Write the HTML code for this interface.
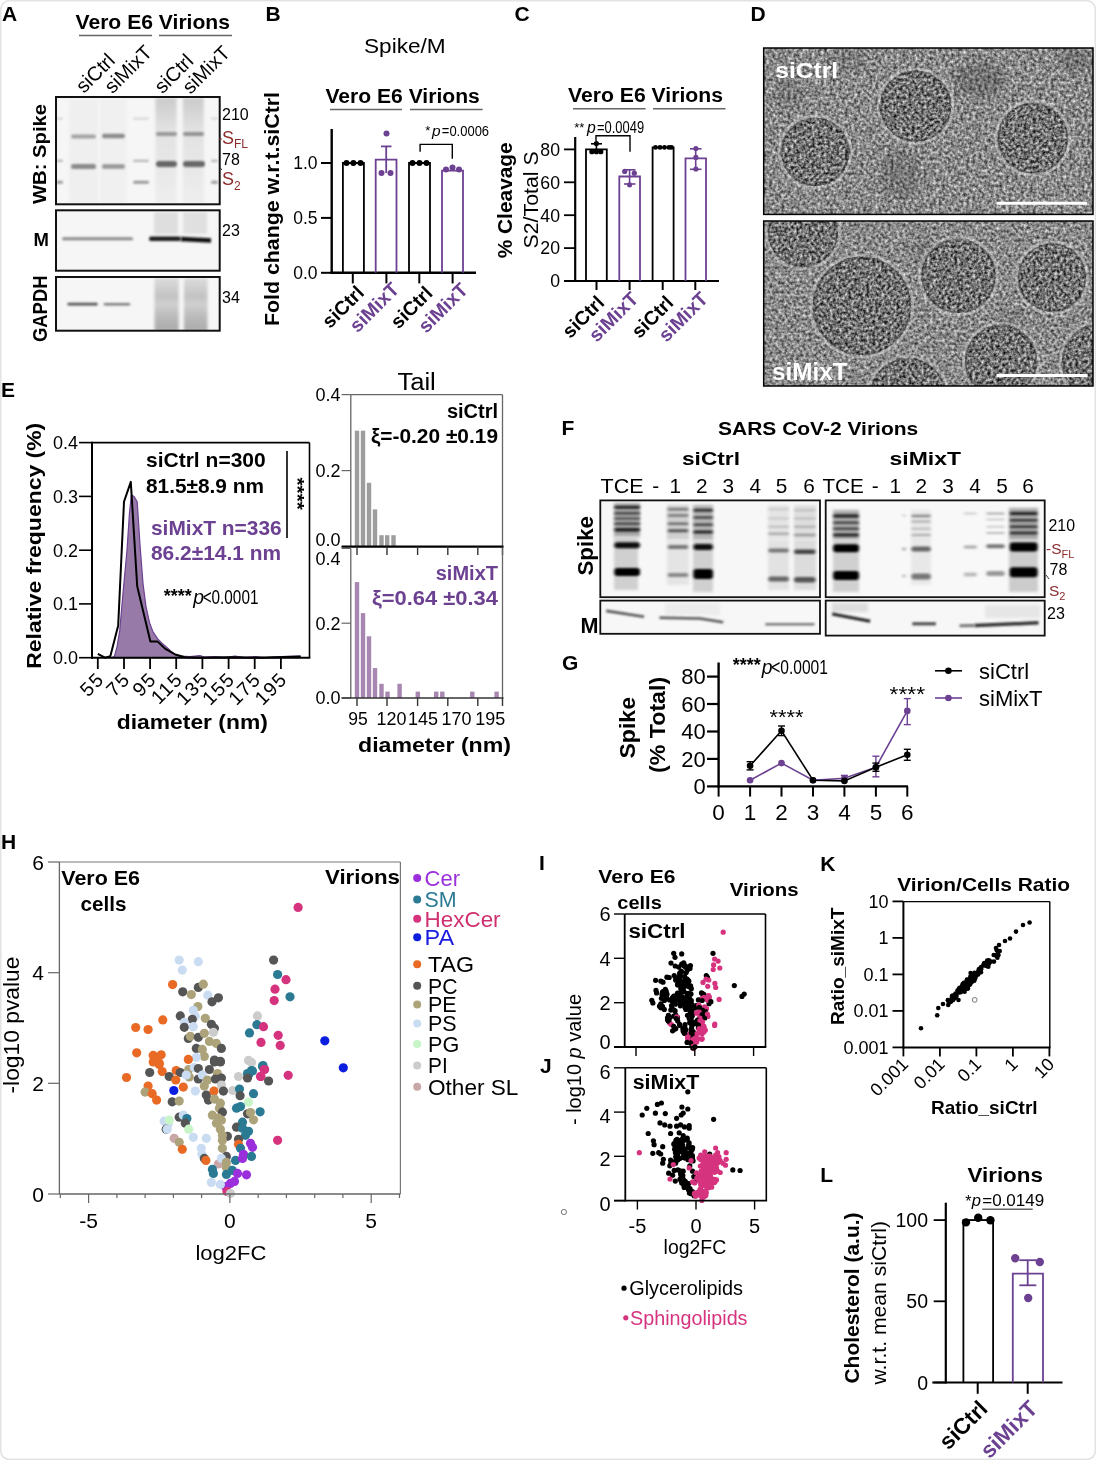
<!DOCTYPE html><html><head><meta charset="utf-8"><style>html,body{margin:0;padding:0;background:#fff;width:1096px;height:1460px;overflow:hidden}</style></head><body><svg width="1096" height="1460" viewBox="0 0 1096 1460" style="display:block" font-family="'Liberation Sans', Arial, sans-serif">
<defs>
<filter id="b1" filterUnits="userSpaceOnUse" x="0" y="0" width="1096" height="1460"><feGaussianBlur stdDeviation="1.0 0.9"/></filter>
<filter id="b2" filterUnits="userSpaceOnUse" x="0" y="0" width="1096" height="1460"><feGaussianBlur stdDeviation="1.5 1.2"/></filter>
<filter id="b3" filterUnits="userSpaceOnUse" x="0" y="0" width="1096" height="1460"><feGaussianBlur stdDeviation="3"/></filter>
<filter id="b4" filterUnits="userSpaceOnUse" x="0" y="0" width="1096" height="1460"><feGaussianBlur stdDeviation="1.6"/></filter>
<filter id="emnoise1" x="0" y="0" width="100%" height="100%" color-interpolation-filters="sRGB"><feTurbulence type="fractalNoise" baseFrequency="0.33" numOctaves="2" seed="3"/><feColorMatrix type="matrix" values="1.0 0 0 0 0.04  1.0 0 0 0 0.04  1.0 0 0 0 0.04  0 0 0 0 1"/></filter>
<filter id="emnoise2" x="0" y="0" width="100%" height="100%" color-interpolation-filters="sRGB"><feTurbulence type="fractalNoise" baseFrequency="0.33" numOctaves="2" seed="7"/><feColorMatrix type="matrix" values="1.0 0 0 0 0.04  1.0 0 0 0 0.04  1.0 0 0 0 0.04  0 0 0 0 1"/></filter>
<filter id="emspeck1" filterUnits="userSpaceOnUse" x="0" y="0" width="1096" height="1460" color-interpolation-filters="sRGB"><feTurbulence type="fractalNoise" baseFrequency="0.33" numOctaves="2" seed="5"/><feColorMatrix type="matrix" values="1.45 0 0 0 -0.29  1.45 0 0 0 -0.29  1.45 0 0 0 -0.29  0 0 0 0 1"/></filter>
<filter id="emspeck2" filterUnits="userSpaceOnUse" x="0" y="0" width="1096" height="1460" color-interpolation-filters="sRGB"><feTurbulence type="fractalNoise" baseFrequency="0.33" numOctaves="2" seed="9"/><feColorMatrix type="matrix" values="1.45 0 0 0 -0.29  1.45 0 0 0 -0.29  1.45 0 0 0 -0.29  0 0 0 0 1"/></filter>
<clipPath id="clipA1"><rect x="56" y="97" width="163.7" height="107.3"/></clipPath>
<clipPath id="clipA2"><rect x="56" y="210.3" width="163.7" height="60.4"/></clipPath>
<clipPath id="clipA3"><rect x="56" y="277" width="163.7" height="53.7"/></clipPath>
<clipPath id="clipF1"><rect x="600.3" y="500.4" width="219.7" height="96.8"/></clipPath>
<clipPath id="clipF2"><rect x="825.7" y="500.4" width="219" height="96.8"/></clipPath>
<clipPath id="clipF3"><rect x="600.3" y="600.6" width="219.7" height="33.2"/></clipPath>
<clipPath id="clipF4"><rect x="825.7" y="600.6" width="219" height="35"/></clipPath>
<linearGradient id="smearA" x1="0" y1="0" x2="0" y2="1"><stop offset="0" stop-color="#cbcbcb"/><stop offset="0.3" stop-color="#e2e2e2"/><stop offset="0.6" stop-color="#e6e6e6"/><stop offset="1" stop-color="#eeeeee"/></linearGradient>
<linearGradient id="smearG" x1="0" y1="0" x2="0" y2="1"><stop offset="0" stop-color="#dcdcdc"/><stop offset="0.35" stop-color="#c2c2c2"/><stop offset="0.5" stop-color="#d0d0d0"/><stop offset="0.7" stop-color="#bcbcbc"/><stop offset="1" stop-color="#aaaaaa"/></linearGradient>
</defs>
<rect x="0" y="0" width="1096" height="1460" fill="#fff"/>
<rect x="0.75" y="0.75" width="1094.6" height="1458.6" rx="8.5" fill="#fff" stroke="#e3e3e3" stroke-width="1.6"/>
<text x="2.0" y="21.0" font-size="21" font-weight="bold">A</text>
<text x="75.5" y="28.8" font-size="21" font-weight="bold" textLength="154.5" lengthAdjust="spacingAndGlyphs">Vero E6 Virions</text>
<line x1="79.0" y1="35.5" x2="152.0" y2="35.5" stroke="#666" stroke-width="1.6" />
<line x1="159.0" y1="35.5" x2="232.0" y2="35.5" stroke="#666" stroke-width="1.6" />
<text x="84.0" y="94.0" font-size="20" transform="rotate(-45 84.0 94.0)">siCtrl</text>
<text x="112.5" y="94.5" font-size="20" transform="rotate(-45 112.5 94.5)">siMixT</text>
<text x="162.5" y="94.5" font-size="20" transform="rotate(-45 162.5 94.5)">siCtrl</text>
<text x="190.5" y="95.0" font-size="20" transform="rotate(-45 190.5 95.0)">siMixT</text>
<g clip-path="url(#clipA1)">
<rect x="56.0" y="97.0" width="163.7" height="107.3" fill="#f6f6f6" />
<rect x="69.0" y="99.0" width="29.0" height="104.0" fill="#efefef" filter="url(#b4)"/>
<rect x="100.0" y="99.0" width="27.0" height="104.0" fill="#f0f0f0" filter="url(#b4)"/>
<rect x="155.4" y="98.0" width="21.2" height="106.0" fill="url(#smearA)" filter="url(#b4)"/>
<rect x="182.9" y="98.0" width="20.9" height="106.0" fill="url(#smearA)" filter="url(#b4)"/>
<rect x="56.0" y="117.8" width="7.0" height="1.6" rx="0.8" fill="#d0d0d0" opacity="1" filter="url(#b1)"/>
<rect x="56.0" y="159.7" width="7.0" height="2.2" rx="1.1" fill="#b5b5b5" opacity="1" filter="url(#b1)"/>
<rect x="56.0" y="180.7" width="7.0" height="3.0" rx="1.5" fill="#999" opacity="1" filter="url(#b1)"/>
<rect x="133.0" y="117.8" width="16.0" height="1.6" rx="0.8" fill="#d0d0d0" opacity="1" filter="url(#b1)"/>
<rect x="133.0" y="159.7" width="16.0" height="2.2" rx="1.1" fill="#b5b5b5" opacity="1" filter="url(#b1)"/>
<rect x="133.0" y="180.7" width="16.0" height="3.0" rx="1.5" fill="#999" opacity="1" filter="url(#b1)"/>
<rect x="211.0" y="117.8" width="7.0" height="1.6" rx="0.8" fill="#d0d0d0" opacity="1" filter="url(#b1)"/>
<rect x="211.0" y="159.7" width="7.0" height="2.2" rx="1.1" fill="#b5b5b5" opacity="1" filter="url(#b1)"/>
<rect x="211.0" y="180.7" width="7.0" height="3.0" rx="1.5" fill="#999" opacity="1" filter="url(#b1)"/>
<rect x="71.0" y="134.5" width="25.0" height="4.0" rx="2.0" fill="#a3a3a3" opacity="1" filter="url(#b1)"/>
<rect x="102.0" y="133.8" width="23.0" height="4.5" rx="2.2" fill="#8a8a8a" opacity="1" filter="url(#b1)"/>
<rect x="156.0" y="132.1" width="21.0" height="3.8" rx="1.9" fill="#999" opacity="1" filter="url(#b1)"/>
<rect x="183.0" y="132.1" width="21.0" height="3.8" rx="1.9" fill="#939393" opacity="1" filter="url(#b1)"/>
<rect x="71.0" y="164.0" width="25.0" height="5.0" rx="2.5" fill="#8a8a8a" opacity="1" filter="url(#b1)"/>
<rect x="102.0" y="164.2" width="23.0" height="4.5" rx="2.2" fill="#959595" opacity="1" filter="url(#b1)"/>
<rect x="156.0" y="161.0" width="21.0" height="6.0" rx="3.0" fill="#666" opacity="1" filter="url(#b1)"/>
<rect x="183.0" y="161.0" width="22.0" height="6.0" rx="3.0" fill="#686868" opacity="1" filter="url(#b1)"/>
</g>
<rect x="56.0" y="97.0" width="163.7" height="107.3" fill="none" stroke="#111" stroke-width="2" />
<g clip-path="url(#clipA2)">
<rect x="56.0" y="210.3" width="163.7" height="60.4" fill="#f6f6f6" />
<rect x="154.0" y="212.0" width="24.0" height="22.0" fill="#dedede" filter="url(#b4)"/>
<rect x="183.0" y="212.0" width="24.0" height="22.0" fill="#e0e0e0" filter="url(#b4)"/>
<rect x="62.0" y="237.3" width="71.0" height="3.0" rx="1.5" fill="#8a8a8a" opacity="1" filter="url(#b1)"/>
<rect x="149.0" y="236.6" width="32.0" height="4.5" rx="2.2" fill="#1e1e1e" opacity="1" filter="url(#b1)"/>
<path d="M181,239 L211,240.5" stroke="#111" stroke-width="4.5" fill="none" filter="url(#b1)"/>
</g>
<rect x="56.0" y="210.3" width="163.7" height="60.4" fill="none" stroke="#111" stroke-width="2" />
<g clip-path="url(#clipA3)">
<rect x="56.0" y="277.0" width="163.7" height="53.7" fill="#f6f6f6" />
<rect x="154.5" y="278.0" width="24.2" height="53.0" fill="url(#smearG)" filter="url(#b4)"/>
<rect x="184.0" y="278.0" width="23.5" height="53.0" fill="url(#smearG)" filter="url(#b4)"/>
<rect x="67.4" y="302.8" width="30.3" height="2.8" rx="1.4" fill="#555" opacity="1" filter="url(#b1)"/>
<rect x="103.7" y="302.9" width="26.5" height="2.6" rx="1.3" fill="#7a7a7a" opacity="1" filter="url(#b1)"/>
</g>
<rect x="56.0" y="277.0" width="163.7" height="53.7" fill="none" stroke="#111" stroke-width="2" />
<text x="45.5" y="204.0" font-size="19" font-weight="bold" transform="rotate(-90 45.5 204.0)" textLength="100" lengthAdjust="spacingAndGlyphs">WB: Spike</text>
<text x="33.5" y="246.0" font-size="18.5" font-weight="bold">M</text>
<text x="47.0" y="342.0" font-size="19.5" font-weight="bold" transform="rotate(-90 47.0 342.0)" textLength="66.5" lengthAdjust="spacingAndGlyphs">GAPDH</text>
<text x="222.0" y="120.0" font-size="16">210</text>
<text x="222.0" y="164.8" font-size="16">78</text>
<text x="222.0" y="236.3" font-size="16">23</text>
<text x="222.0" y="302.8" font-size="16">34</text>
<text x="222" y="144.4" font-size="18" fill="#8b2b2b">S<tspan font-size="12" dy="4">FL</tspan></text>
<text x="222" y="185.2" font-size="18" fill="#8b2b2b">S<tspan font-size="12" dy="5">2</tspan></text>
<line x1="219.0" y1="139.0" x2="222.0" y2="139.0" stroke="#8b2b2b" stroke-width="1" />
<line x1="219.5" y1="167.0" x2="222.0" y2="170.0" stroke="#333" stroke-width="1" />
<text x="265.5" y="20.5" font-size="21" font-weight="bold">B</text>
<text x="364.0" y="53.0" font-size="19.8" textLength="81.7" lengthAdjust="spacingAndGlyphs">Spike/M</text>
<text x="325.4" y="102.5" font-size="19.5" font-weight="bold" textLength="154.4" lengthAdjust="spacingAndGlyphs">Vero E6 Virions</text>
<line x1="330.0" y1="109.5" x2="402.0" y2="109.5" stroke="#666" stroke-width="1.6" />
<line x1="410.0" y1="109.5" x2="482.7" y2="109.5" stroke="#666" stroke-width="1.6" />
<line x1="331.7" y1="129.0" x2="331.7" y2="273.8" stroke="#000" stroke-width="2.4" />
<line x1="330.5" y1="272.8" x2="476.0" y2="272.8" stroke="#000" stroke-width="2.4" />
<line x1="321.0" y1="163.0" x2="331.7" y2="163.0" stroke="#000" stroke-width="2" />
<text x="317.5" y="169.3" font-size="17.5" text-anchor="end">1.0</text>
<line x1="321.0" y1="217.9" x2="331.7" y2="217.9" stroke="#000" stroke-width="2" />
<text x="317.5" y="224.2" font-size="17.5" text-anchor="end">0.5</text>
<line x1="321.0" y1="272.8" x2="331.7" y2="272.8" stroke="#000" stroke-width="2" />
<text x="317.5" y="279.1" font-size="17.5" text-anchor="end">0.0</text>
<path d="M342.9,272.8 L342.9,163.0 L363.9,163.0 L363.9,272.8" stroke="#000" stroke-width="1.8" fill="none" />
<path d="M375.7,272.8 L375.7,159.7 L396.5,159.7 L396.5,272.8" stroke="#6c4192" stroke-width="1.8" fill="none" />
<path d="M409.0,272.8 L409.0,163.0 L430.0,163.0 L430.0,272.8" stroke="#000" stroke-width="1.8" fill="none" />
<path d="M442.0,272.8 L442.0,170.7 L463.0,170.7 L463.0,272.8" stroke="#6c4192" stroke-width="1.8" fill="none" />
<circle cx="346.5" cy="163.0" r="3.0" fill="#000" />
<circle cx="353.4" cy="163.0" r="3.0" fill="#000" />
<circle cx="360.5" cy="163.0" r="3.0" fill="#000" />
<circle cx="412.5" cy="163.0" r="3.0" fill="#000" />
<circle cx="419.5" cy="163.0" r="3.0" fill="#000" />
<circle cx="426.5" cy="163.0" r="3.0" fill="#000" />
<line x1="386.2" y1="146.4" x2="386.2" y2="173.0" stroke="#6c4192" stroke-width="1.8" />
<line x1="381.0" y1="146.4" x2="391.5" y2="146.4" stroke="#6c4192" stroke-width="1.8" />
<circle cx="386.5" cy="133.5" r="3.0" fill="#6c4192" />
<circle cx="381.5" cy="173.0" r="3.0" fill="#6c4192" />
<circle cx="390.5" cy="173.0" r="3.0" fill="#6c4192" />
<circle cx="446.0" cy="169.6" r="3.0" fill="#6c4192" />
<circle cx="452.5" cy="167.6" r="3.0" fill="#6c4192" />
<circle cx="459.0" cy="169.6" r="3.0" fill="#6c4192" />
<path d="M420.1,151.7 L420.1,144.4 L452.3,144.4 L452.3,158.7" stroke="#000" stroke-width="1.4" fill="none" />
<text x="425.2" y="134.5" font-size="13">*</text>
<text x="432.0" y="135.7" font-size="15.5" font-style="italic">p</text>
<text x="441.8" y="135.7" font-size="15.5" textLength="47.3" lengthAdjust="spacingAndGlyphs">=0.0006</text>
<line x1="352.8" y1="272.8" x2="352.8" y2="283.4" stroke="#000" stroke-width="2" />
<text x="365.3" y="294.0" font-size="19.5" font-weight="bold" fill="#000" text-anchor="end" transform="rotate(-45 365.3 294.0)">siCtrl</text>
<line x1="386.4" y1="272.8" x2="386.4" y2="283.4" stroke="#000" stroke-width="2" />
<text x="400.4" y="290.5" font-size="19.5" font-weight="bold" fill="#6c4192" text-anchor="end" transform="rotate(-45 400.4 290.5)">siMixT</text>
<line x1="419.3" y1="272.8" x2="419.3" y2="283.4" stroke="#000" stroke-width="2" />
<text x="433.8" y="294.5" font-size="19.5" font-weight="bold" fill="#000" text-anchor="end" transform="rotate(-45 433.8 294.5)">siCtrl</text>
<line x1="452.6" y1="272.8" x2="452.6" y2="283.4" stroke="#000" stroke-width="2" />
<text x="469.1" y="291.0" font-size="19.5" font-weight="bold" fill="#6c4192" text-anchor="end" transform="rotate(-45 469.1 291.0)">siMixT</text>
<text x="279.0" y="326.0" font-size="20.5" font-weight="bold" transform="rotate(-90 279.0 326.0)" textLength="234" lengthAdjust="spacingAndGlyphs">Fold change w.r.t.siCtrl</text>
<text x="514.4" y="21.0" font-size="21" font-weight="bold">C</text>
<text x="568.0" y="102.0" font-size="19.5" font-weight="bold" textLength="155" lengthAdjust="spacingAndGlyphs">Vero E6 Virions</text>
<line x1="573.0" y1="108.7" x2="645.6" y2="108.7" stroke="#666" stroke-width="1.6" />
<line x1="653.0" y1="108.7" x2="725.5" y2="108.7" stroke="#666" stroke-width="1.6" />
<line x1="575.2" y1="137.0" x2="575.2" y2="282.0" stroke="#000" stroke-width="2.2" />
<line x1="564.0" y1="281.0" x2="719.0" y2="281.0" stroke="#000" stroke-width="2.2" />
<line x1="564.0" y1="149.4" x2="575.2" y2="149.4" stroke="#000" stroke-width="1.8" />
<text x="560.0" y="155.7" font-size="17.7" text-anchor="end">80</text>
<line x1="564.0" y1="182.3" x2="575.2" y2="182.3" stroke="#000" stroke-width="1.8" />
<text x="560.0" y="188.6" font-size="17.7" text-anchor="end">60</text>
<line x1="564.0" y1="215.2" x2="575.2" y2="215.2" stroke="#000" stroke-width="1.8" />
<text x="560.0" y="221.5" font-size="17.7" text-anchor="end">40</text>
<line x1="564.0" y1="248.1" x2="575.2" y2="248.1" stroke="#000" stroke-width="1.8" />
<text x="560.0" y="254.4" font-size="17.7" text-anchor="end">20</text>
<text x="560.0" y="287.3" font-size="17.7" text-anchor="end">0</text>
<path d="M586.0,281.0 L586.0,149.4 L606.8,149.4 L606.8,281.0" stroke="#000" stroke-width="1.8" fill="none" />
<path d="M619.3,281.0 L619.3,176.5 L640.0,176.5 L640.0,281.0" stroke="#6c4192" stroke-width="1.8" fill="none" />
<path d="M652.6,281.0 L652.6,147.4 L673.6,147.4 L673.6,281.0" stroke="#000" stroke-width="1.8" fill="none" />
<path d="M685.5,281.0 L685.5,158.4 L706.0,158.4 L706.0,281.0" stroke="#6c4192" stroke-width="1.8" fill="none" />
<line x1="596.4" y1="143.8" x2="596.4" y2="152.0" stroke="#000" stroke-width="1.6" />
<line x1="591.0" y1="143.8" x2="602.0" y2="143.8" stroke="#000" stroke-width="1.6" />
<circle cx="596.4" cy="143.5" r="2.6" fill="#000" />
<circle cx="591.9" cy="151.7" r="2.6" fill="#000" />
<circle cx="596.4" cy="151.7" r="2.6" fill="#000" />
<circle cx="600.8" cy="151.7" r="2.6" fill="#000" />
<line x1="629.6" y1="169.8" x2="629.6" y2="184.0" stroke="#6c4192" stroke-width="1.6" />
<line x1="624.0" y1="169.8" x2="635.5" y2="169.8" stroke="#6c4192" stroke-width="1.6" />
<line x1="624.0" y1="184.0" x2="635.5" y2="184.0" stroke="#6c4192" stroke-width="1.6" />
<circle cx="624.7" cy="171.4" r="2.6" fill="#6c4192" />
<circle cx="634.3" cy="173.2" r="2.6" fill="#6c4192" />
<circle cx="629.6" cy="184.8" r="2.6" fill="#6c4192" />
<circle cx="655.5" cy="147.4" r="2.4" fill="#000" />
<circle cx="660.0" cy="147.4" r="2.4" fill="#000" />
<circle cx="664.5" cy="147.4" r="2.4" fill="#000" />
<circle cx="669.0" cy="147.4" r="2.4" fill="#000" />
<circle cx="671.5" cy="147.4" r="2.4" fill="#000" />
<line x1="695.7" y1="148.8" x2="695.7" y2="169.3" stroke="#6c4192" stroke-width="1.6" />
<line x1="690.0" y1="148.8" x2="701.5" y2="148.8" stroke="#6c4192" stroke-width="1.6" />
<line x1="690.0" y1="169.3" x2="701.5" y2="169.3" stroke="#6c4192" stroke-width="1.6" />
<circle cx="695.9" cy="148.5" r="2.6" fill="#6c4192" />
<circle cx="695.9" cy="157.4" r="2.6" fill="#6c4192" />
<circle cx="695.9" cy="169.0" r="2.6" fill="#6c4192" />
<path d="M596,141 L596,135.7 L630,135.7 L630,151.8" stroke="#000" stroke-width="1.4" fill="none" />
<text x="574.2" y="131.5" font-size="13">**</text>
<text x="587.0" y="132.5" font-size="15.8" font-style="italic">p</text>
<text x="597.0" y="132.5" font-size="15.8" textLength="47.1" lengthAdjust="spacingAndGlyphs">=0.0049</text>
<line x1="596.5" y1="281.0" x2="596.5" y2="290.0" stroke="#000" stroke-width="2" />
<text x="605.5" y="304.0" font-size="19.5" font-weight="bold" fill="#000" text-anchor="end" transform="rotate(-45 605.5 304.0)">siCtrl</text>
<line x1="629.6" y1="281.0" x2="629.6" y2="290.0" stroke="#000" stroke-width="2" />
<text x="639.6" y="300.0" font-size="19.5" font-weight="bold" fill="#6c4192" text-anchor="end" transform="rotate(-45 639.6 300.0)">siMixT</text>
<line x1="662.7" y1="281.0" x2="662.7" y2="290.0" stroke="#000" stroke-width="2" />
<text x="674.7" y="304.0" font-size="19.5" font-weight="bold" fill="#000" text-anchor="end" transform="rotate(-45 674.7 304.0)">siCtrl</text>
<line x1="695.3" y1="281.0" x2="695.3" y2="290.0" stroke="#000" stroke-width="2" />
<text x="709.3" y="300.0" font-size="19.5" font-weight="bold" fill="#6c4192" text-anchor="end" transform="rotate(-45 709.3 300.0)">siMixT</text>
<text x="512.5" y="258.3" font-size="20.7" font-weight="bold" transform="rotate(-90 512.5 258.3)" textLength="116" lengthAdjust="spacingAndGlyphs">% Cleavage</text>
<text x="537.7" y="248.4" font-size="20.8" transform="rotate(-90 537.7 248.4)" textLength="97" lengthAdjust="spacingAndGlyphs">S2/Total S</text>
<text x="750.4" y="21.0" font-size="21" font-weight="bold">D</text>
<clipPath id="clipD1"><rect x="763.7" y="48" width="329.3" height="166.4"/></clipPath>
<clipPath id="vir1"><circle cx="815.2" cy="151.9" r="34"/><circle cx="915.6" cy="106.2" r="35.5"/><circle cx="1032.8" cy="138.1" r="35"/></clipPath>
<g clip-path="url(#clipD1)">
<rect x="763.7" y="48" width="329.3" height="166.4" fill="#fff" filter="url(#emnoise1)"/>
<ellipse cx="980" cy="80" rx="25" ry="18" fill="#333" opacity="0.25" filter="url(#b3)"/>
<ellipse cx="900" cy="175" rx="20" ry="25" fill="#333" opacity="0.2" filter="url(#b3)"/>
<ellipse cx="790" cy="90" rx="15" ry="20" fill="#333" opacity="0.15" filter="url(#b3)"/>
<ellipse cx="1075" cy="60" rx="15" ry="12" fill="#333" opacity="0.25" filter="url(#b3)"/>
<ellipse cx="850" cy="60" rx="18" ry="10" fill="#333" opacity="0.15" filter="url(#b3)"/>
<circle cx="815.2" cy="151.9" r="36" fill="none" stroke="#e8e8e8" stroke-width="2.5" opacity="0.35"/>
<circle cx="915.6" cy="106.2" r="37.5" fill="none" stroke="#e8e8e8" stroke-width="2.5" opacity="0.35"/>
<circle cx="1032.8" cy="138.1" r="37" fill="none" stroke="#e8e8e8" stroke-width="2.5" opacity="0.35"/>
<rect x="763.7" y="48" width="329.3" height="166.4" fill="#fff" filter="url(#emspeck1)" clip-path="url(#vir1)" opacity="0.85"/>
<circle cx="815.2" cy="151.9" r="33.2" fill="none" stroke="#2a2a2a" stroke-width="1.8" opacity="0.35"/>
<circle cx="915.6" cy="106.2" r="34.7" fill="none" stroke="#2a2a2a" stroke-width="1.8" opacity="0.35"/>
<circle cx="1032.8" cy="138.1" r="34.2" fill="none" stroke="#2a2a2a" stroke-width="1.8" opacity="0.35"/>
</g>
<rect x="763.7" y="48" width="329.3" height="166.4" fill="none" stroke="#000" stroke-width="1.5"/>
<text x="775.2" y="78.0" font-size="22.8" font-weight="bold" fill="#fff" textLength="63" lengthAdjust="spacingAndGlyphs">siCtrl</text>
<line x1="996.6" y1="203.2" x2="1087.0" y2="203.2" stroke="#fff" stroke-width="3" />
<clipPath id="clipD2"><rect x="763.7" y="221" width="329.3" height="165"/></clipPath>
<clipPath id="vir2"><circle cx="803" cy="232" r="35"/><circle cx="861.9" cy="305.9" r="49"/><circle cx="958.5" cy="276" r="37"/><circle cx="1052" cy="277.6" r="34"/><circle cx="1001" cy="361" r="36"/><circle cx="1100" cy="362" r="38"/><circle cx="908" cy="396" r="38"/></clipPath>
<g clip-path="url(#clipD2)">
<rect x="763.7" y="221" width="329.3" height="165" fill="#fff" filter="url(#emnoise2)"/>
<ellipse cx="925" cy="250" rx="15" ry="12" fill="#333" opacity="0.15" filter="url(#b3)"/>
<ellipse cx="1010" cy="320" rx="12" ry="10" fill="#333" opacity="0.15" filter="url(#b3)"/>
<circle cx="803" cy="232" r="37" fill="none" stroke="#e8e8e8" stroke-width="2.5" opacity="0.35"/>
<circle cx="861.9" cy="305.9" r="51" fill="none" stroke="#e8e8e8" stroke-width="2.5" opacity="0.35"/>
<circle cx="958.5" cy="276" r="39" fill="none" stroke="#e8e8e8" stroke-width="2.5" opacity="0.35"/>
<circle cx="1052" cy="277.6" r="36" fill="none" stroke="#e8e8e8" stroke-width="2.5" opacity="0.35"/>
<circle cx="1001" cy="361" r="38" fill="none" stroke="#e8e8e8" stroke-width="2.5" opacity="0.35"/>
<circle cx="1100" cy="362" r="40" fill="none" stroke="#e8e8e8" stroke-width="2.5" opacity="0.35"/>
<circle cx="908" cy="396" r="40" fill="none" stroke="#e8e8e8" stroke-width="2.5" opacity="0.35"/>
<rect x="763.7" y="221" width="329.3" height="165" fill="#fff" filter="url(#emspeck2)" clip-path="url(#vir2)" opacity="0.85"/>
<circle cx="803" cy="232" r="34.2" fill="none" stroke="#2a2a2a" stroke-width="1.8" opacity="0.35"/>
<circle cx="861.9" cy="305.9" r="48.2" fill="none" stroke="#2a2a2a" stroke-width="1.8" opacity="0.35"/>
<circle cx="958.5" cy="276" r="36.2" fill="none" stroke="#2a2a2a" stroke-width="1.8" opacity="0.35"/>
<circle cx="1052" cy="277.6" r="33.2" fill="none" stroke="#2a2a2a" stroke-width="1.8" opacity="0.35"/>
<circle cx="1001" cy="361" r="35.2" fill="none" stroke="#2a2a2a" stroke-width="1.8" opacity="0.35"/>
<circle cx="1100" cy="362" r="37.2" fill="none" stroke="#2a2a2a" stroke-width="1.8" opacity="0.35"/>
<circle cx="908" cy="396" r="37.2" fill="none" stroke="#2a2a2a" stroke-width="1.8" opacity="0.35"/>
</g>
<rect x="763.7" y="221" width="329.3" height="165" fill="none" stroke="#000" stroke-width="1.5"/>
<text x="772.0" y="379.5" font-size="23.5" font-weight="bold" fill="#fff" textLength="75.5" lengthAdjust="spacingAndGlyphs">siMixT</text>
<line x1="996.6" y1="375.4" x2="1087.5" y2="375.4" stroke="#fff" stroke-width="3" />
<text x="1.0" y="397.4" font-size="21" font-weight="bold">E</text>
<path d="M112.0,657.7 L114.5,656.1 L117.0,646.9 L119.7,630.8 L123.0,593.2 L127.0,550.2 L129.5,512.5 L131.4,494.8 L134.0,496.4 L137.2,501.8 L140.0,544.8 L143.0,583.5 L146.0,606.6 L149.5,622.7 L153.0,631.9 L157.7,638.9 L162.0,643.2 L166.4,646.9 L171.0,651.2 L175.2,654.5 L180.0,656.1 L190.0,656.6 L200.0,655.5 L205.0,657.2 L215.0,656.6 L225.0,657.7 L235.0,656.1 L245.0,657.7 L255.0,656.6 L265.0,657.7 L280.0,656.6 L300.0,656.1 L300.0,657.7 Z" fill="#977aa8" stroke="#6c4192" stroke-width="1.2" stroke-linejoin="round"/>
<path d="M97.8,653.9 L105.0,657.7 L110.4,656.1 L118.2,625.4 L124.0,501.8 L130.8,481.9 L137.2,586.2 L150.4,641.6 L157.7,641.6 L165.0,648.6 L175.2,654.5 L185.0,657.2 L200.0,657.7 L230.0,657.2 L260.0,657.7 L300.7,656.6" fill="none" stroke="#000" stroke-width="2" stroke-linejoin="round"/>
<line x1="92.0" y1="442.6" x2="309.5" y2="442.6" stroke="#000" stroke-width="1.6" />
<line x1="309.5" y1="442.6" x2="309.5" y2="657.7" stroke="#000" stroke-width="1.6" />
<line x1="92.0" y1="441.8" x2="92.0" y2="658.7" stroke="#000" stroke-width="2" />
<line x1="91.0" y1="657.7" x2="310.3" y2="657.7" stroke="#000" stroke-width="2" />
<line x1="79.0" y1="442.6" x2="92.0" y2="442.6" stroke="#000" stroke-width="1.6" />
<text x="78.0" y="449.0" font-size="18" text-anchor="end">0.4</text>
<line x1="79.0" y1="496.4" x2="92.0" y2="496.4" stroke="#000" stroke-width="1.6" />
<text x="78.0" y="502.8" font-size="18" text-anchor="end">0.3</text>
<line x1="79.0" y1="550.2" x2="92.0" y2="550.2" stroke="#000" stroke-width="1.6" />
<text x="78.0" y="556.6" font-size="18" text-anchor="end">0.2</text>
<line x1="79.0" y1="603.9" x2="92.0" y2="603.9" stroke="#000" stroke-width="1.6" />
<text x="78.0" y="610.3" font-size="18" text-anchor="end">0.1</text>
<line x1="79.0" y1="657.7" x2="92.0" y2="657.7" stroke="#000" stroke-width="1.6" />
<text x="78.0" y="664.1" font-size="18" text-anchor="end">0.0</text>
<line x1="97.8" y1="657.7" x2="97.8" y2="669.0" stroke="#000" stroke-width="1.8" />
<text x="105.3" y="680.5" font-size="19.5" text-anchor="end" transform="rotate(-45 105.3 680.5)" letter-spacing="1.3">55</text>
<line x1="124.0" y1="657.7" x2="124.0" y2="669.0" stroke="#000" stroke-width="1.8" />
<text x="131.4" y="680.5" font-size="19.5" text-anchor="end" transform="rotate(-45 131.4 680.5)" letter-spacing="1.3">75</text>
<line x1="150.1" y1="657.7" x2="150.1" y2="669.0" stroke="#000" stroke-width="1.8" />
<text x="157.6" y="680.5" font-size="19.5" text-anchor="end" transform="rotate(-45 157.6 680.5)" letter-spacing="1.3">95</text>
<line x1="176.2" y1="657.7" x2="176.2" y2="669.0" stroke="#000" stroke-width="1.8" />
<text x="183.8" y="680.5" font-size="19.5" text-anchor="end" transform="rotate(-45 183.8 680.5)" letter-spacing="1.3">115</text>
<line x1="202.4" y1="657.7" x2="202.4" y2="669.0" stroke="#000" stroke-width="1.8" />
<text x="209.9" y="680.5" font-size="19.5" text-anchor="end" transform="rotate(-45 209.9 680.5)" letter-spacing="1.3">135</text>
<line x1="228.6" y1="657.7" x2="228.6" y2="669.0" stroke="#000" stroke-width="1.8" />
<text x="236.1" y="680.5" font-size="19.5" text-anchor="end" transform="rotate(-45 236.1 680.5)" letter-spacing="1.3">155</text>
<line x1="254.7" y1="657.7" x2="254.7" y2="669.0" stroke="#000" stroke-width="1.8" />
<text x="262.2" y="680.5" font-size="19.5" text-anchor="end" transform="rotate(-45 262.2 680.5)" letter-spacing="1.3">175</text>
<line x1="280.9" y1="657.7" x2="280.9" y2="669.0" stroke="#000" stroke-width="1.8" />
<text x="288.4" y="680.5" font-size="19.5" text-anchor="end" transform="rotate(-45 288.4 680.5)" letter-spacing="1.3">195</text>
<text x="116.8" y="729.2" font-size="20" font-weight="bold" textLength="151" lengthAdjust="spacingAndGlyphs">diameter (nm)</text>
<text x="41.0" y="668.8" font-size="20" font-weight="bold" transform="rotate(-90 41.0 668.8)" textLength="246" lengthAdjust="spacingAndGlyphs">Relative frequency (%)</text>
<text x="146.0" y="467.4" font-size="20.4" font-weight="bold" textLength="119.7" lengthAdjust="spacingAndGlyphs">siCtrl n=300</text>
<text x="146.0" y="492.8" font-size="20.4" font-weight="bold" textLength="118" lengthAdjust="spacingAndGlyphs">81.5±8.9 nm</text>
<text x="151.0" y="535.2" font-size="20.4" font-weight="bold" fill="#6c4192" textLength="130.7" lengthAdjust="spacingAndGlyphs">siMixT n=336</text>
<text x="151.0" y="559.9" font-size="20.4" font-weight="bold" fill="#6c4192" textLength="130" lengthAdjust="spacingAndGlyphs">86.2±14.1 nm</text>
<line x1="287.0" y1="451.0" x2="287.0" y2="538.0" stroke="#000" stroke-width="1.6" />
<text x="291.0" y="477.5" font-size="18" font-weight="bold" transform="rotate(90 291.0 477.5)" textLength="32.5" lengthAdjust="spacingAndGlyphs">****</text>
<text x="163.8" y="601.5" font-size="18" font-weight="bold">****</text>
<text x="193.3" y="603.9" font-size="19.4" font-style="italic">p</text>
<text x="202.7" y="603.9" font-size="19.4" textLength="55.7" lengthAdjust="spacingAndGlyphs">&lt;0.0001</text>
<text x="397.4" y="389.6" font-size="23" textLength="38.4" lengthAdjust="spacingAndGlyphs">Tail</text>
<line x1="350.8" y1="394.6" x2="502.5" y2="394.6" stroke="#666" stroke-width="1.3" />
<line x1="502.5" y1="394.6" x2="502.5" y2="546.6" stroke="#666" stroke-width="1.3" />
<line x1="350.8" y1="394.6" x2="350.8" y2="546.6" stroke="#666" stroke-width="1.3" />
<rect x="354.8" y="430.7" width="4.4" height="115.9" fill="#9d9d9d" />
<rect x="360.8" y="430.7" width="4.4" height="115.9" fill="#9d9d9d" />
<rect x="366.8" y="482.8" width="4.4" height="63.8" fill="#9d9d9d" />
<rect x="372.8" y="509.4" width="4.4" height="37.2" fill="#9d9d9d" />
<rect x="379.3" y="535.2" width="4.4" height="11.4" fill="#9d9d9d" />
<rect x="385.0" y="535.2" width="4.4" height="11.4" fill="#9d9d9d" />
<rect x="391.3" y="535.2" width="4.4" height="11.4" fill="#9d9d9d" />
<line x1="341.6" y1="394.6" x2="350.8" y2="394.6" stroke="#666" stroke-width="1.2" />
<text x="340.5" y="401.4" font-size="18" text-anchor="end">0.4</text>
<line x1="341.6" y1="470.6" x2="350.8" y2="470.6" stroke="#666" stroke-width="1.2" />
<text x="340.5" y="477.0" font-size="18" text-anchor="end">0.2</text>
<line x1="341.6" y1="546.6" x2="350.8" y2="546.6" stroke="#666" stroke-width="1.2" />
<text x="340.5" y="545.9" font-size="18" text-anchor="end">0.0</text>
<line x1="341.6" y1="546.6" x2="503.5" y2="546.6" stroke="#000" stroke-width="2.2" />
<line x1="357.0" y1="546.6" x2="357.0" y2="555.0" stroke="#333" stroke-width="1.4" />
<line x1="387.0" y1="546.6" x2="387.0" y2="555.0" stroke="#333" stroke-width="1.4" />
<line x1="417.6" y1="546.6" x2="417.6" y2="555.0" stroke="#333" stroke-width="1.4" />
<line x1="447.8" y1="546.6" x2="447.8" y2="555.0" stroke="#333" stroke-width="1.4" />
<line x1="477.8" y1="546.6" x2="477.8" y2="555.0" stroke="#333" stroke-width="1.4" />
<line x1="502.5" y1="546.6" x2="502.5" y2="555.0" stroke="#333" stroke-width="1.4" />
<text x="498.0" y="418.2" font-size="20" font-weight="bold" text-anchor="end">siCtrl</text>
<text x="498.0" y="442.8" font-size="20" font-weight="bold" text-anchor="end" textLength="127" lengthAdjust="spacingAndGlyphs">ξ=-0.20 ±0.19</text>
<line x1="350.8" y1="548.4" x2="350.8" y2="698.0" stroke="#666" stroke-width="1.3" />
<line x1="502.5" y1="548.4" x2="502.5" y2="698.0" stroke="#666" stroke-width="1.3" />
<rect x="354.8" y="582.1" width="4.4" height="115.9" fill="#a886b2" />
<rect x="360.8" y="613.1" width="4.4" height="84.9" fill="#a886b2" />
<rect x="366.8" y="636.3" width="4.4" height="61.7" fill="#a886b2" />
<rect x="372.8" y="668.1" width="4.4" height="29.9" fill="#a886b2" />
<rect x="379.3" y="683.8" width="4.4" height="14.2" fill="#a886b2" />
<rect x="385.3" y="691.6" width="4.4" height="6.4" fill="#a886b2" />
<rect x="397.4" y="683.8" width="4.4" height="14.2" fill="#a886b2" />
<rect x="415.6" y="691.6" width="4.4" height="6.4" fill="#a886b2" />
<rect x="434.0" y="691.6" width="4.4" height="6.4" fill="#a886b2" />
<rect x="440.1" y="691.6" width="4.4" height="6.4" fill="#a886b2" />
<rect x="470.1" y="691.6" width="4.4" height="6.4" fill="#a886b2" />
<rect x="494.4" y="691.6" width="4.4" height="6.4" fill="#a886b2" />
<line x1="341.6" y1="548.4" x2="350.8" y2="548.4" stroke="#666" stroke-width="1.2" />
<text x="340.5" y="565.0" font-size="18" text-anchor="end">0.4</text>
<line x1="341.6" y1="623.2" x2="350.8" y2="623.2" stroke="#666" stroke-width="1.2" />
<text x="340.5" y="629.6" font-size="18" text-anchor="end">0.2</text>
<line x1="341.6" y1="698.0" x2="350.8" y2="698.0" stroke="#666" stroke-width="1.2" />
<text x="340.5" y="704.4" font-size="18" text-anchor="end">0.0</text>
<line x1="341.6" y1="698.0" x2="503.5" y2="698.0" stroke="#333" stroke-width="1.6" />
<line x1="357.0" y1="698.0" x2="357.0" y2="706.0" stroke="#333" stroke-width="1.4" />
<text x="358.0" y="724.8" font-size="18.5" text-anchor="middle" textLength="19.5" lengthAdjust="spacingAndGlyphs">95</text>
<line x1="387.0" y1="698.0" x2="387.0" y2="706.0" stroke="#333" stroke-width="1.4" />
<text x="391.4" y="724.8" font-size="18.5" text-anchor="middle" textLength="30" lengthAdjust="spacingAndGlyphs">120</text>
<line x1="417.6" y1="698.0" x2="417.6" y2="706.0" stroke="#333" stroke-width="1.4" />
<text x="423.0" y="724.8" font-size="18.5" text-anchor="middle" textLength="30" lengthAdjust="spacingAndGlyphs">145</text>
<line x1="447.8" y1="698.0" x2="447.8" y2="706.0" stroke="#333" stroke-width="1.4" />
<text x="456.6" y="724.8" font-size="18.5" text-anchor="middle" textLength="30" lengthAdjust="spacingAndGlyphs">170</text>
<line x1="477.8" y1="698.0" x2="477.8" y2="706.0" stroke="#333" stroke-width="1.4" />
<text x="490.2" y="724.8" font-size="18.5" text-anchor="middle" textLength="30" lengthAdjust="spacingAndGlyphs">195</text>
<line x1="502.5" y1="698.0" x2="502.5" y2="706.0" stroke="#333" stroke-width="1.4" />
<text x="358.0" y="751.5" font-size="20" font-weight="bold" textLength="153" lengthAdjust="spacingAndGlyphs">diameter (nm)</text>
<text x="498.0" y="579.7" font-size="20" font-weight="bold" fill="#6c4192" text-anchor="end">siMixT</text>
<text x="498.0" y="604.7" font-size="20" font-weight="bold" fill="#6c4192" text-anchor="end" textLength="126" lengthAdjust="spacingAndGlyphs">ξ=0.64 ±0.34</text>
<text x="561.5" y="434.5" font-size="21" font-weight="bold">F</text>
<text x="718.0" y="434.8" font-size="18.5" font-weight="bold" textLength="200.2" lengthAdjust="spacingAndGlyphs">SARS CoV-2 Virions</text>
<text x="682.0" y="465.2" font-size="19" font-weight="bold" textLength="58" lengthAdjust="spacingAndGlyphs">siCtrl</text>
<text x="889.6" y="465.2" font-size="19" font-weight="bold" textLength="71.4" lengthAdjust="spacingAndGlyphs">siMixT</text>
<text x="600.5" y="492.8" font-size="20.8" textLength="43" lengthAdjust="spacingAndGlyphs">TCE</text>
<text x="822.4" y="492.8" font-size="20.8" textLength="41.4" lengthAdjust="spacingAndGlyphs">TCE</text>
<text x="655.7" y="492.8" font-size="20.8" text-anchor="middle">-</text>
<text x="675.4" y="492.8" font-size="20.8" text-anchor="middle">1</text>
<text x="701.7" y="492.8" font-size="20.8" text-anchor="middle">2</text>
<text x="728.4" y="492.8" font-size="20.8" text-anchor="middle">3</text>
<text x="755.3" y="492.8" font-size="20.8" text-anchor="middle">4</text>
<text x="781.6" y="492.8" font-size="20.8" text-anchor="middle">5</text>
<text x="809.0" y="492.8" font-size="20.8" text-anchor="middle">6</text>
<text x="875.3" y="492.8" font-size="20.8" text-anchor="middle">-</text>
<text x="895.2" y="492.8" font-size="20.8" text-anchor="middle">1</text>
<text x="921.3" y="492.8" font-size="20.8" text-anchor="middle">2</text>
<text x="948.0" y="492.8" font-size="20.8" text-anchor="middle">3</text>
<text x="975.0" y="492.8" font-size="20.8" text-anchor="middle">4</text>
<text x="1002.0" y="492.8" font-size="20.8" text-anchor="middle">5</text>
<text x="1028.0" y="492.8" font-size="20.8" text-anchor="middle">6</text>
<g clip-path="url(#clipF1)">
<rect x="600.3" y="500.4" width="219.7" height="96.8" fill="#f7f7f7" />
<rect x="614.0" y="503.0" width="26.0" height="34.0" fill="#a8a8a8" filter="url(#b4)"/>
<rect x="614.0" y="537.0" width="24.0" height="53.0" fill="#d0d0d0" filter="url(#b4)"/>
<rect x="667.0" y="505.0" width="22.0" height="35.0" fill="#d0d0d0" filter="url(#b4)"/>
<rect x="667.0" y="540.0" width="22.0" height="45.0" fill="#e4e4e4" filter="url(#b4)"/>
<rect x="693.0" y="505.0" width="20.0" height="35.0" fill="#b4b4b4" filter="url(#b4)"/>
<rect x="693.0" y="540.0" width="20.0" height="52.0" fill="#d0d0d0" filter="url(#b4)"/>
<rect x="768.0" y="505.0" width="21.0" height="35.0" fill="#e4e4e4" filter="url(#b4)"/>
<rect x="768.0" y="540.0" width="21.0" height="50.0" fill="#e2e2e2" filter="url(#b4)"/>
<rect x="794.0" y="505.0" width="22.0" height="35.0" fill="#dedede" filter="url(#b4)"/>
<rect x="794.0" y="540.0" width="22.0" height="50.0" fill="#dcdcdc" filter="url(#b4)"/>
<rect x="614.4" y="505.7" width="25.6" height="3.0" rx="1.5" fill="#222" opacity="1" filter="url(#b2)"/>
<rect x="614.4" y="512.1" width="25.6" height="2.5" rx="1.2" fill="#444" opacity="1" filter="url(#b2)"/>
<rect x="614.4" y="517.2" width="25.6" height="2.5" rx="1.2" fill="#555" opacity="1" filter="url(#b2)"/>
<rect x="614.4" y="522.5" width="25.6" height="2.5" rx="1.2" fill="#444" opacity="1" filter="url(#b2)"/>
<rect x="614.4" y="528.0" width="25.6" height="3.5" rx="1.8" fill="#1a1a1a" opacity="1" filter="url(#b2)"/>
<rect x="614.4" y="542.2" width="25.6" height="6.0" rx="3.0" fill="#0a0a0a" opacity="1" filter="url(#b2)"/>
<rect x="614.4" y="567.9" width="25.6" height="8.0" rx="3.0" fill="#050505" opacity="1" filter="url(#b2)"/>
<rect x="667.7" y="508.1" width="20.6" height="2.5" rx="1.2" fill="#777" opacity="1" filter="url(#b2)"/>
<rect x="667.7" y="514.2" width="20.6" height="2.5" rx="1.2" fill="#777" opacity="1" filter="url(#b2)"/>
<rect x="667.7" y="522.5" width="20.6" height="2.5" rx="1.2" fill="#6a6a6a" opacity="1" filter="url(#b2)"/>
<rect x="667.7" y="529.3" width="20.6" height="3.0" rx="1.5" fill="#555" opacity="1" filter="url(#b2)"/>
<rect x="667.7" y="544.9" width="20.6" height="4.0" rx="2.0" fill="#777" opacity="1" filter="url(#b2)"/>
<rect x="667.7" y="573.0" width="20.6" height="4.0" rx="2.0" fill="#888" opacity="1" filter="url(#b2)"/>
<rect x="693.4" y="508.8" width="19.5" height="3.0" rx="1.5" fill="#333" opacity="1" filter="url(#b2)"/>
<rect x="693.4" y="516.2" width="19.5" height="2.5" rx="1.2" fill="#444" opacity="1" filter="url(#b2)"/>
<rect x="693.4" y="523.5" width="19.5" height="2.5" rx="1.2" fill="#444" opacity="1" filter="url(#b2)"/>
<rect x="693.4" y="530.4" width="19.5" height="3.0" rx="1.5" fill="#222" opacity="1" filter="url(#b2)"/>
<rect x="693.4" y="543.9" width="19.5" height="6.0" rx="3.0" fill="#111" opacity="1" filter="url(#b2)"/>
<rect x="693.4" y="569.0" width="19.5" height="10.0" rx="3.0" fill="#000" opacity="1" filter="url(#b2)"/>
<rect x="768.3" y="508.3" width="20.6" height="2.0" rx="1.0" fill="#c8c8c8" opacity="1" filter="url(#b2)"/>
<rect x="768.3" y="517.5" width="20.6" height="2.0" rx="1.0" fill="#c8c8c8" opacity="1" filter="url(#b2)"/>
<rect x="768.3" y="525.7" width="20.6" height="2.0" rx="1.0" fill="#bbb" opacity="1" filter="url(#b2)"/>
<rect x="768.3" y="532.6" width="20.6" height="2.5" rx="1.2" fill="#aaa" opacity="1" filter="url(#b2)"/>
<rect x="768.3" y="548.4" width="20.6" height="4.0" rx="2.0" fill="#777" opacity="1" filter="url(#b2)"/>
<rect x="768.3" y="576.5" width="20.6" height="5.0" rx="2.5" fill="#666" opacity="1" filter="url(#b2)"/>
<rect x="794.0" y="509.3" width="21.6" height="2.0" rx="1.0" fill="#bbb" opacity="1" filter="url(#b2)"/>
<rect x="794.0" y="517.5" width="21.6" height="2.0" rx="1.0" fill="#bbb" opacity="1" filter="url(#b2)"/>
<rect x="794.0" y="525.7" width="21.6" height="2.0" rx="1.0" fill="#aaa" opacity="1" filter="url(#b2)"/>
<rect x="794.0" y="533.8" width="21.6" height="2.5" rx="1.2" fill="#999" opacity="1" filter="url(#b2)"/>
<rect x="794.0" y="549.5" width="21.6" height="4.5" rx="2.2" fill="#444" opacity="1" filter="url(#b2)"/>
<rect x="794.0" y="577.0" width="21.6" height="5.5" rx="2.8" fill="#555" opacity="1" filter="url(#b2)"/>
</g>
<rect x="600.3" y="500.4" width="219.7" height="96.8" fill="none" stroke="#111" stroke-width="1.8" />
<g clip-path="url(#clipF2)">
<rect x="825.7" y="500.4" width="219.0" height="96.8" fill="#f8f8f8" />
<rect x="833.0" y="510.0" width="26.0" height="30.0" fill="#acacac" filter="url(#b4)"/>
<rect x="833.0" y="540.0" width="26.0" height="52.0" fill="#d0d0d0" filter="url(#b4)"/>
<rect x="911.0" y="510.0" width="20.0" height="75.0" fill="#e8e8e8" filter="url(#b4)"/>
<rect x="1009.0" y="508.0" width="29.0" height="32.0" fill="#a8a8a8" filter="url(#b4)"/>
<rect x="1009.0" y="540.0" width="29.0" height="52.0" fill="#cccccc" filter="url(#b4)"/>
<rect x="833.2" y="514.6" width="25.7" height="3.0" rx="1.5" fill="#1a1a1a" opacity="1" filter="url(#b2)"/>
<rect x="833.2" y="521.4" width="25.7" height="2.5" rx="1.2" fill="#444" opacity="1" filter="url(#b2)"/>
<rect x="833.2" y="527.5" width="25.7" height="2.5" rx="1.2" fill="#444" opacity="1" filter="url(#b2)"/>
<rect x="833.2" y="533.5" width="25.7" height="3.0" rx="1.5" fill="#222" opacity="1" filter="url(#b2)"/>
<rect x="833.2" y="544.3" width="25.7" height="8.0" rx="3.0" fill="#000" opacity="1" filter="url(#b2)"/>
<rect x="833.2" y="571.1" width="25.7" height="9.0" rx="3.0" fill="#000" opacity="1" filter="url(#b2)"/>
<rect x="902.0" y="514.5" width="4.0" height="2.0" rx="1.0" fill="#ccc" opacity="1" filter="url(#b2)"/>
<rect x="902.0" y="547.5" width="4.0" height="3.0" rx="1.5" fill="#aaa" opacity="1" filter="url(#b2)"/>
<rect x="902.0" y="574.5" width="4.0" height="3.0" rx="1.5" fill="#bbb" opacity="1" filter="url(#b2)"/>
<rect x="911.3" y="514.8" width="19.5" height="2.5" rx="1.2" fill="#888" opacity="1" filter="url(#b2)"/>
<rect x="911.3" y="520.6" width="19.5" height="2.0" rx="1.0" fill="#aaa" opacity="1" filter="url(#b2)"/>
<rect x="911.3" y="527.8" width="19.5" height="2.0" rx="1.0" fill="#bbb" opacity="1" filter="url(#b2)"/>
<rect x="911.3" y="534.0" width="19.5" height="2.0" rx="1.0" fill="#aaa" opacity="1" filter="url(#b2)"/>
<rect x="911.3" y="546.5" width="19.5" height="5.0" rx="2.5" fill="#666" opacity="1" filter="url(#b2)"/>
<rect x="911.3" y="573.4" width="19.5" height="6.0" rx="3.0" fill="#777" opacity="1" filter="url(#b2)"/>
<rect x="963.6" y="512.4" width="13.4" height="2.0" rx="1.0" fill="#ccc" opacity="1" filter="url(#b2)"/>
<rect x="963.6" y="545.4" width="13.4" height="3.0" rx="1.5" fill="#aaa" opacity="1" filter="url(#b2)"/>
<rect x="963.6" y="572.4" width="13.4" height="4.0" rx="2.0" fill="#bbb" opacity="1" filter="url(#b2)"/>
<rect x="986.2" y="512.4" width="18.5" height="2.0" rx="1.0" fill="#aaa" opacity="1" filter="url(#b2)"/>
<rect x="986.2" y="518.6" width="18.5" height="2.0" rx="1.0" fill="#ccc" opacity="1" filter="url(#b2)"/>
<rect x="986.2" y="525.7" width="18.5" height="2.0" rx="1.0" fill="#ccc" opacity="1" filter="url(#b2)"/>
<rect x="986.2" y="532.0" width="18.5" height="2.0" rx="1.0" fill="#bbb" opacity="1" filter="url(#b2)"/>
<rect x="986.2" y="544.2" width="18.5" height="4.0" rx="2.0" fill="#777" opacity="1" filter="url(#b2)"/>
<rect x="986.2" y="571.0" width="18.5" height="5.0" rx="2.5" fill="#999" opacity="1" filter="url(#b2)"/>
<rect x="1009.8" y="511.9" width="27.7" height="3.0" rx="1.5" fill="#222" opacity="1" filter="url(#b2)"/>
<rect x="1009.8" y="519.0" width="27.7" height="2.5" rx="1.2" fill="#333" opacity="1" filter="url(#b2)"/>
<rect x="1009.8" y="525.5" width="27.7" height="2.5" rx="1.2" fill="#333" opacity="1" filter="url(#b2)"/>
<rect x="1009.8" y="531.5" width="27.7" height="3.0" rx="1.5" fill="#333" opacity="1" filter="url(#b2)"/>
<rect x="1009.8" y="542.4" width="27.7" height="9.0" rx="3.0" fill="#000" opacity="1" filter="url(#b2)"/>
<rect x="1009.8" y="567.3" width="27.7" height="10.0" rx="3.0" fill="#000" opacity="1" filter="url(#b2)"/>
</g>
<rect x="825.7" y="500.4" width="219.0" height="96.8" fill="none" stroke="#111" stroke-width="1.8" />
<g clip-path="url(#clipF3)">
<rect x="600.3" y="600.6" width="219.7" height="33.2" fill="#f7f7f7" />
<rect x="665.0" y="603.0" width="55.0" height="12.0" fill="#ececec" filter="url(#b4)"/>
<path d="M606.2,610.9 L644.1,616.7" stroke="#555" stroke-width="2.6" fill="none" filter="url(#b1)"/>
<path d="M659.5,617.7 L700,618.5 L723.2,622.2" stroke="#555" stroke-width="2.6" fill="none" filter="url(#b1)"/>
<path d="M765.3,624.3 L814.5,624.3" stroke="#777" stroke-width="2.6" fill="none" filter="url(#b1)"/>
</g>
<rect x="600.3" y="600.6" width="219.7" height="33.2" fill="none" stroke="#111" stroke-width="1.8" />
<g clip-path="url(#clipF4)">
<rect x="825.7" y="600.6" width="219.0" height="35.0" fill="#f7f7f7" />
<rect x="832.0" y="603.0" width="36.0" height="9.0" fill="#dddddd" filter="url(#b4)"/>
<rect x="985.0" y="605.0" width="55.0" height="13.0" fill="#e6e6e6" filter="url(#b4)"/>
<path d="M832.2,614 L870.2,621.2" stroke="#222" stroke-width="3" fill="none" filter="url(#b1)"/>
<path d="M912.3,623.8 L935.9,623.8" stroke="#444" stroke-width="3" fill="none" filter="url(#b1)"/>
<path d="M959.5,625.7 L975,625.5" stroke="#777" stroke-width="3" fill="none" filter="url(#b1)"/>
<path d="M975,625.5 L1038.5,622.8" stroke="#333" stroke-width="3.5" fill="none" filter="url(#b1)"/>
</g>
<rect x="825.7" y="600.6" width="219.0" height="35.0" fill="none" stroke="#111" stroke-width="1.8" />
<text x="593.0" y="575.5" font-size="22" font-weight="bold" transform="rotate(-90 593.0 575.5)" textLength="59.5" lengthAdjust="spacingAndGlyphs">Spike</text>
<text x="580.5" y="632.5" font-size="21.6" font-weight="bold">M</text>
<text x="1048.5" y="530.8" font-size="16" textLength="26.5" lengthAdjust="spacingAndGlyphs">210</text>
<text x="1046" y="553.5" font-size="15.5" fill="#8b2b2b">-S<tspan font-size="11" dy="4.5">FL</tspan></text>
<text x="1049.5" y="574.8" font-size="16">78</text>
<text x="1049" y="595.5" font-size="15.5" fill="#8b2b2b">S<tspan font-size="11" dy="4.5">2</tspan></text>
<line x1="1046.0" y1="575.0" x2="1049.0" y2="579.0" stroke="#333" stroke-width="1" />
<text x="1047.0" y="619.0" font-size="16">23</text>
<text x="562.0" y="670.0" font-size="21" font-weight="bold">G</text>
<line x1="718.6" y1="662.5" x2="718.6" y2="787.4" stroke="#000" stroke-width="2.4" />
<line x1="717.6" y1="786.4" x2="908.0" y2="786.4" stroke="#000" stroke-width="2.4" />
<line x1="707.0" y1="676.6" x2="718.6" y2="676.6" stroke="#000" stroke-width="2.2" />
<text x="705.8" y="684.4" font-size="22" text-anchor="end">80</text>
<line x1="707.0" y1="704.0" x2="718.6" y2="704.0" stroke="#000" stroke-width="2.2" />
<text x="705.8" y="711.8" font-size="22" text-anchor="end">60</text>
<line x1="707.0" y1="731.5" x2="718.6" y2="731.5" stroke="#000" stroke-width="2.2" />
<text x="705.8" y="739.3" font-size="22" text-anchor="end">40</text>
<line x1="707.0" y1="758.9" x2="718.6" y2="758.9" stroke="#000" stroke-width="2.2" />
<text x="705.8" y="766.7" font-size="22" text-anchor="end">20</text>
<line x1="707.0" y1="786.4" x2="718.6" y2="786.4" stroke="#000" stroke-width="2.2" />
<text x="705.8" y="794.2" font-size="22" text-anchor="end">0</text>
<line x1="718.6" y1="786.4" x2="718.6" y2="796.6" stroke="#000" stroke-width="2" />
<text x="718.6" y="820.0" font-size="22.5" text-anchor="middle">0</text>
<line x1="750.1" y1="786.4" x2="750.1" y2="796.6" stroke="#000" stroke-width="2" />
<text x="750.1" y="820.0" font-size="22.5" text-anchor="middle">1</text>
<line x1="781.5" y1="786.4" x2="781.5" y2="796.6" stroke="#000" stroke-width="2" />
<text x="781.5" y="820.0" font-size="22.5" text-anchor="middle">2</text>
<line x1="813.0" y1="786.4" x2="813.0" y2="796.6" stroke="#000" stroke-width="2" />
<text x="813.0" y="820.0" font-size="22.5" text-anchor="middle">3</text>
<line x1="844.4" y1="786.4" x2="844.4" y2="796.6" stroke="#000" stroke-width="2" />
<text x="844.4" y="820.0" font-size="22.5" text-anchor="middle">4</text>
<line x1="875.9" y1="786.4" x2="875.9" y2="796.6" stroke="#000" stroke-width="2" />
<text x="875.9" y="820.0" font-size="22.5" text-anchor="middle">5</text>
<line x1="907.3" y1="786.4" x2="907.3" y2="796.6" stroke="#000" stroke-width="2" />
<text x="907.3" y="820.0" font-size="22.5" text-anchor="middle">6</text>
<path d="M750.1,780.2 L781.5,763.1 L813.0,780.2 L844.4,778.2 L875.9,767.2 L907.3,710.9" stroke="#6c4192" stroke-width="1.6" fill="none" />
<line x1="844.4" y1="775.4" x2="844.4" y2="780.9" stroke="#6c4192" stroke-width="1.4" />
<line x1="840.9" y1="775.4" x2="847.9" y2="775.4" stroke="#6c4192" stroke-width="1.4" />
<line x1="840.9" y1="780.9" x2="847.9" y2="780.9" stroke="#6c4192" stroke-width="1.4" />
<line x1="875.9" y1="756.2" x2="875.9" y2="776.8" stroke="#6c4192" stroke-width="1.4" />
<line x1="872.4" y1="756.2" x2="879.4" y2="756.2" stroke="#6c4192" stroke-width="1.4" />
<line x1="872.4" y1="776.8" x2="879.4" y2="776.8" stroke="#6c4192" stroke-width="1.4" />
<line x1="907.3" y1="698.6" x2="907.3" y2="724.6" stroke="#6c4192" stroke-width="1.4" />
<line x1="903.8" y1="698.6" x2="910.8" y2="698.6" stroke="#6c4192" stroke-width="1.4" />
<line x1="903.8" y1="724.6" x2="910.8" y2="724.6" stroke="#6c4192" stroke-width="1.4" />
<circle cx="750.1" cy="780.2" r="3.3" fill="#6c4192" />
<circle cx="781.5" cy="763.1" r="3.3" fill="#6c4192" />
<circle cx="813.0" cy="780.2" r="3.3" fill="#6c4192" />
<circle cx="844.4" cy="778.2" r="3.3" fill="#6c4192" />
<circle cx="875.9" cy="767.2" r="3.3" fill="#6c4192" />
<circle cx="907.3" cy="710.9" r="3.3" fill="#6c4192" />
<path d="M750.1,765.8 L781.5,730.8 L813.0,780.2 L844.4,780.9 L875.9,767.2 L907.3,754.8" stroke="#000" stroke-width="1.6" fill="none" />
<line x1="750.1" y1="761.7" x2="750.1" y2="769.9" stroke="#000" stroke-width="1.4" />
<line x1="746.6" y1="761.7" x2="753.6" y2="761.7" stroke="#000" stroke-width="1.4" />
<line x1="746.6" y1="769.9" x2="753.6" y2="769.9" stroke="#000" stroke-width="1.4" />
<line x1="781.5" y1="726.0" x2="781.5" y2="735.6" stroke="#000" stroke-width="1.4" />
<line x1="778.0" y1="726.0" x2="785.0" y2="726.0" stroke="#000" stroke-width="1.4" />
<line x1="778.0" y1="735.6" x2="785.0" y2="735.6" stroke="#000" stroke-width="1.4" />
<line x1="875.9" y1="763.1" x2="875.9" y2="771.3" stroke="#000" stroke-width="1.4" />
<line x1="872.4" y1="763.1" x2="879.4" y2="763.1" stroke="#000" stroke-width="1.4" />
<line x1="872.4" y1="771.3" x2="879.4" y2="771.3" stroke="#000" stroke-width="1.4" />
<line x1="907.3" y1="749.3" x2="907.3" y2="760.3" stroke="#000" stroke-width="1.4" />
<line x1="903.8" y1="749.3" x2="910.8" y2="749.3" stroke="#000" stroke-width="1.4" />
<line x1="903.8" y1="760.3" x2="910.8" y2="760.3" stroke="#000" stroke-width="1.4" />
<circle cx="750.1" cy="765.8" r="3.3" fill="#000" />
<circle cx="781.5" cy="730.8" r="3.3" fill="#000" />
<circle cx="813.0" cy="780.2" r="3.3" fill="#000" />
<circle cx="844.4" cy="780.9" r="3.3" fill="#000" />
<circle cx="875.9" cy="767.2" r="3.3" fill="#000" />
<circle cx="907.3" cy="754.8" r="3.3" fill="#000" />
<text x="732.8" y="671.2" font-size="18" font-weight="bold">****</text>
<text x="761.8" y="673.9" font-size="19.4" font-style="italic">p</text>
<text x="771.2" y="673.9" font-size="19.4" textLength="56.7" lengthAdjust="spacingAndGlyphs">&lt;0.0001</text>
<text x="786.6" y="724.0" font-size="21" text-anchor="middle" textLength="34" lengthAdjust="spacingAndGlyphs">****</text>
<text x="907.3" y="700.7" font-size="21" text-anchor="middle" textLength="35.4" lengthAdjust="spacingAndGlyphs">****</text>
<line x1="935.0" y1="670.8" x2="962.0" y2="670.8" stroke="#000" stroke-width="1.6" />
<circle cx="948.4" cy="670.8" r="3.3" fill="#000" />
<line x1="935.0" y1="698.0" x2="962.0" y2="698.0" stroke="#6c4192" stroke-width="1.6" />
<circle cx="948.4" cy="698.0" r="3.3" fill="#6c4192" />
<text x="979.0" y="678.5" font-size="22">siCtrl</text>
<text x="979.0" y="705.8" font-size="22">siMixT</text>
<text x="635.5" y="758.6" font-size="21.5" font-weight="bold" transform="rotate(-90 635.5 758.6)" textLength="61.6" lengthAdjust="spacingAndGlyphs">Spike</text>
<text x="665.5" y="772.9" font-size="21.5" font-weight="bold" transform="rotate(-90 665.5 772.9)" textLength="96" lengthAdjust="spacingAndGlyphs">(% Total)</text>
<text x="1.0" y="848.7" font-size="21" font-weight="bold">H</text>
<circle cx="298.1" cy="907.4" r="4.6" fill="#d6337f" />
<circle cx="179.2" cy="960.1" r="4.6" fill="#c9dcf2" />
<circle cx="198.3" cy="961.7" r="4.6" fill="#c9dcf2" />
<circle cx="182.3" cy="970.1" r="4.6" fill="#c9dcf2" />
<circle cx="273.6" cy="960.1" r="4.6" fill="#555555" />
<circle cx="277.6" cy="974.5" r="4.6" fill="#2b7a94" />
<circle cx="286.0" cy="979.7" r="4.6" fill="#d6337f" />
<circle cx="275.0" cy="989.2" r="4.6" fill="#d6337f" />
<circle cx="290.0" cy="996.8" r="4.6" fill="#2b7a94" />
<circle cx="274.2" cy="1000.6" r="4.6" fill="#d6337f" />
<circle cx="172.6" cy="984.6" r="4.6" fill="#e86a25" />
<circle cx="198.3" cy="987.4" r="4.6" fill="#555555" />
<circle cx="203.3" cy="984.2" r="4.6" fill="#aca37a" />
<circle cx="182.7" cy="991.8" r="4.6" fill="#555555" />
<circle cx="191.3" cy="994.6" r="4.6" fill="#aca37a" />
<circle cx="207.8" cy="995.2" r="4.6" fill="#c9dcf2" />
<circle cx="218.4" cy="997.8" r="4.6" fill="#555555" />
<circle cx="212.0" cy="1001.8" r="4.6" fill="#555555" />
<circle cx="197.9" cy="1006.6" r="4.6" fill="#aca37a" />
<circle cx="193.3" cy="1010.3" r="4.6" fill="#c9dcf2" />
<circle cx="180.3" cy="1015.9" r="4.6" fill="#555555" />
<circle cx="195.3" cy="1016.3" r="4.6" fill="#c9dcf2" />
<circle cx="192.3" cy="1019.3" r="4.6" fill="#555555" />
<circle cx="205.3" cy="1018.3" r="4.6" fill="#aca37a" />
<circle cx="162.8" cy="1019.9" r="4.6" fill="#e86a25" />
<circle cx="135.7" cy="1027.5" r="4.6" fill="#e86a25" />
<circle cx="148.1" cy="1029.5" r="4.6" fill="#e86a25" />
<circle cx="184.3" cy="1022.3" r="4.6" fill="#c9dcf2" />
<circle cx="184.3" cy="1027.3" r="4.6" fill="#555555" />
<circle cx="193.3" cy="1026.7" r="4.6" fill="#c9dcf2" />
<circle cx="211.4" cy="1024.3" r="4.6" fill="#555555" />
<circle cx="214.4" cy="1028.3" r="4.6" fill="#555555" />
<circle cx="213.4" cy="1032.3" r="4.6" fill="#cccccc" />
<circle cx="188.3" cy="1038.4" r="4.6" fill="#555555" />
<circle cx="190.3" cy="1036.3" r="4.6" fill="#aca37a" />
<circle cx="198.3" cy="1037.3" r="4.6" fill="#555555" />
<circle cx="204.3" cy="1033.3" r="4.6" fill="#aca37a" />
<circle cx="209.4" cy="1041.4" r="4.6" fill="#aca37a" />
<circle cx="216.4" cy="1043.4" r="4.6" fill="#aca37a" />
<circle cx="221.4" cy="1048.4" r="4.6" fill="#555555" />
<circle cx="196.3" cy="1048.4" r="4.6" fill="#555555" />
<circle cx="202.3" cy="1049.4" r="4.6" fill="#aca37a" />
<circle cx="204.3" cy="1056.4" r="4.6" fill="#aca37a" />
<circle cx="196.3" cy="1057.4" r="4.6" fill="#c9dcf2" />
<circle cx="214.4" cy="1060.0" r="4.6" fill="#555555" />
<circle cx="220.4" cy="1061.4" r="4.6" fill="#555555" />
<circle cx="257.5" cy="1015.9" r="4.6" fill="#cccccc" />
<circle cx="256.9" cy="1024.7" r="4.6" fill="#2b7a94" />
<circle cx="263.5" cy="1026.7" r="4.6" fill="#d6337f" />
<circle cx="249.5" cy="1032.9" r="4.6" fill="#2b7a94" />
<circle cx="278.2" cy="1035.3" r="4.6" fill="#d6337f" />
<circle cx="261.0" cy="1042.4" r="4.6" fill="#d6337f" />
<circle cx="280.2" cy="1045.4" r="4.6" fill="#d6337f" />
<circle cx="324.8" cy="1040.8" r="4.6" fill="#0b1ee0" />
<circle cx="343.3" cy="1067.8" r="4.6" fill="#0b1ee0" />
<circle cx="136.7" cy="1052.8" r="4.6" fill="#e86a25" />
<circle cx="153.2" cy="1055.4" r="4.6" fill="#e86a25" />
<circle cx="161.2" cy="1054.8" r="4.6" fill="#e86a25" />
<circle cx="155.2" cy="1060.4" r="4.6" fill="#e86a25" />
<circle cx="159.2" cy="1064.4" r="4.6" fill="#e86a25" />
<circle cx="188.3" cy="1059.4" r="4.6" fill="#e86a25" />
<circle cx="153.2" cy="1062.0" r="4.6" fill="#e86a25" />
<circle cx="159.2" cy="1063.0" r="4.6" fill="#e86a25" />
<circle cx="162.2" cy="1071.5" r="4.6" fill="#e86a25" />
<circle cx="176.2" cy="1070.5" r="4.6" fill="#e86a25" />
<circle cx="126.5" cy="1077.5" r="4.6" fill="#e86a25" />
<circle cx="149.7" cy="1072.5" r="4.6" fill="#555555" />
<circle cx="169.2" cy="1076.5" r="4.6" fill="#555555" />
<circle cx="180.3" cy="1072.5" r="4.6" fill="#555555" />
<circle cx="188.7" cy="1069.5" r="4.6" fill="#aca37a" />
<circle cx="194.3" cy="1067.5" r="4.6" fill="#c9dcf2" />
<circle cx="198.3" cy="1068.5" r="4.6" fill="#555555" />
<circle cx="209.4" cy="1069.5" r="4.6" fill="#555555" />
<circle cx="217.4" cy="1073.5" r="4.6" fill="#aca37a" />
<circle cx="248.5" cy="1060.4" r="4.6" fill="#cccccc" />
<circle cx="251.5" cy="1062.4" r="4.6" fill="#cccccc" />
<circle cx="251.5" cy="1070.5" r="4.6" fill="#2b7a94" />
<circle cx="247.5" cy="1073.5" r="4.6" fill="#2b7a94" />
<circle cx="262.5" cy="1066.5" r="4.6" fill="#2b7a94" />
<circle cx="264.6" cy="1069.5" r="4.6" fill="#d6337f" />
<circle cx="260.5" cy="1076.5" r="4.6" fill="#d6337f" />
<circle cx="288.2" cy="1075.3" r="4.6" fill="#d6337f" />
<circle cx="238.5" cy="1076.5" r="4.6" fill="#cccccc" />
<circle cx="175.8" cy="1080.0" r="4.6" fill="#e86a25" />
<circle cx="183.3" cy="1087.1" r="4.6" fill="#e86a25" />
<circle cx="148.1" cy="1086.1" r="4.6" fill="#e86a25" />
<circle cx="145.1" cy="1092.1" r="4.6" fill="#aca37a" />
<circle cx="152.2" cy="1093.7" r="4.6" fill="#e86a25" />
<circle cx="156.6" cy="1100.1" r="4.6" fill="#e86a25" />
<circle cx="173.8" cy="1090.5" r="4.6" fill="#0b1ee0" />
<circle cx="172.2" cy="1101.8" r="4.6" fill="#555555" />
<circle cx="179.2" cy="1101.1" r="4.6" fill="#aca37a" />
<circle cx="189.3" cy="1077.0" r="4.6" fill="#aca37a" />
<circle cx="186.3" cy="1075.0" r="4.6" fill="#c9dcf2" />
<circle cx="198.3" cy="1079.0" r="4.6" fill="#555555" />
<circle cx="214.4" cy="1062.0" r="4.6" fill="#555555" />
<circle cx="220.4" cy="1062.0" r="4.6" fill="#555555" />
<circle cx="202.3" cy="1075.0" r="4.6" fill="#c9dcf2" />
<circle cx="207.4" cy="1080.0" r="4.6" fill="#aca37a" />
<circle cx="204.3" cy="1086.1" r="4.6" fill="#aca37a" />
<circle cx="215.4" cy="1079.0" r="4.6" fill="#555555" />
<circle cx="221.4" cy="1078.0" r="4.6" fill="#555555" />
<circle cx="221.4" cy="1085.0" r="4.6" fill="#cccccc" />
<circle cx="223.4" cy="1091.1" r="4.6" fill="#555555" />
<circle cx="195.3" cy="1091.1" r="4.6" fill="#c9dcf2" />
<circle cx="206.3" cy="1095.1" r="4.6" fill="#555555" />
<circle cx="208.4" cy="1100.1" r="4.6" fill="#555555" />
<circle cx="214.0" cy="1091.1" r="4.6" fill="#e86a25" />
<circle cx="214.4" cy="1099.1" r="4.6" fill="#aca37a" />
<circle cx="220.4" cy="1103.2" r="4.6" fill="#aca37a" />
<circle cx="219.4" cy="1108.2" r="4.6" fill="#aca37a" />
<circle cx="222.4" cy="1112.2" r="4.6" fill="#555555" />
<circle cx="212.4" cy="1115.2" r="4.6" fill="#aca37a" />
<circle cx="218.4" cy="1118.2" r="4.6" fill="#aca37a" />
<circle cx="221.4" cy="1120.2" r="4.6" fill="#aca37a" />
<circle cx="216.4" cy="1123.2" r="4.6" fill="#aca37a" />
<circle cx="220.4" cy="1129.2" r="4.6" fill="#aca37a" />
<circle cx="227.4" cy="1136.3" r="4.6" fill="#555555" />
<circle cx="222.4" cy="1135.3" r="4.6" fill="#aca37a" />
<circle cx="222.4" cy="1140.3" r="4.6" fill="#aca37a" />
<circle cx="222.4" cy="1148.3" r="4.6" fill="#aca37a" />
<circle cx="232.8" cy="1090.5" r="4.6" fill="#cccccc" />
<circle cx="248.5" cy="1075.0" r="4.6" fill="#2b7a94" />
<circle cx="252.5" cy="1071.0" r="4.6" fill="#2b7a94" />
<circle cx="247.5" cy="1078.0" r="4.6" fill="#555555" />
<circle cx="263.0" cy="1065.6" r="4.6" fill="#2b7a94" />
<circle cx="264.2" cy="1069.6" r="4.6" fill="#d6337f" />
<circle cx="261.0" cy="1076.5" r="4.6" fill="#d6337f" />
<circle cx="268.6" cy="1081.0" r="4.6" fill="#555555" />
<circle cx="239.5" cy="1089.1" r="4.6" fill="#2b7a94" />
<circle cx="240.1" cy="1095.7" r="4.6" fill="#555555" />
<circle cx="253.5" cy="1093.7" r="4.6" fill="#2b7a94" />
<circle cx="248.5" cy="1102.2" r="4.6" fill="#c8f5c8" />
<circle cx="236.5" cy="1108.2" r="4.6" fill="#2b7a94" />
<circle cx="240.5" cy="1106.6" r="4.6" fill="#2b7a94" />
<circle cx="247.5" cy="1113.8" r="4.6" fill="#555555" />
<circle cx="250.5" cy="1112.6" r="4.6" fill="#aca37a" />
<circle cx="253.5" cy="1119.8" r="4.6" fill="#aca37a" />
<circle cx="260.1" cy="1111.8" r="4.6" fill="#2b7a94" />
<circle cx="242.5" cy="1122.2" r="4.6" fill="#2b7a94" />
<circle cx="236.5" cy="1127.2" r="4.6" fill="#555555" />
<circle cx="242.5" cy="1128.2" r="4.6" fill="#2b7a94" />
<circle cx="248.5" cy="1131.3" r="4.6" fill="#2b7a94" />
<circle cx="245.5" cy="1135.3" r="4.6" fill="#2b7a94" />
<circle cx="238.5" cy="1139.3" r="4.6" fill="#555555" />
<circle cx="238.5" cy="1144.3" r="4.6" fill="#e86a25" />
<circle cx="240.5" cy="1148.3" r="4.6" fill="#2b7a94" />
<circle cx="250.5" cy="1143.3" r="4.6" fill="#9b2fdc" />
<circle cx="252.5" cy="1147.3" r="4.6" fill="#9b2fdc" />
<circle cx="277.6" cy="1140.3" r="4.6" fill="#d6337f" />
<circle cx="164.2" cy="1121.2" r="4.6" fill="#c9dcf2" />
<circle cx="168.2" cy="1124.2" r="4.6" fill="#c9dcf2" />
<circle cx="169.2" cy="1120.2" r="4.6" fill="#c8f5c8" />
<circle cx="179.2" cy="1117.2" r="4.6" fill="#555555" />
<circle cx="183.3" cy="1115.2" r="4.6" fill="#c9dcf2" />
<circle cx="186.9" cy="1118.6" r="4.6" fill="#2b7a94" />
<circle cx="185.3" cy="1123.2" r="4.6" fill="#555555" />
<circle cx="166.2" cy="1129.2" r="4.6" fill="#555555" />
<circle cx="167.2" cy="1129.2" r="4.6" fill="#c9dcf2" />
<circle cx="188.7" cy="1129.2" r="4.6" fill="#c8f5c8" />
<circle cx="174.2" cy="1138.3" r="4.6" fill="#c9a7a7" />
<circle cx="179.2" cy="1142.3" r="4.6" fill="#aca37a" />
<circle cx="182.3" cy="1149.3" r="4.6" fill="#e86a25" />
<circle cx="193.3" cy="1137.3" r="4.6" fill="#c9dcf2" />
<circle cx="206.3" cy="1138.3" r="4.6" fill="#c9dcf2" />
<circle cx="201.3" cy="1148.3" r="4.6" fill="#c9dcf2" />
<circle cx="201.9" cy="1154.3" r="4.6" fill="#c9dcf2" />
<circle cx="204.3" cy="1158.4" r="4.6" fill="#555555" />
<circle cx="205.9" cy="1160.4" r="4.6" fill="#e86a25" />
<circle cx="218.4" cy="1164.0" r="4.6" fill="#c9a7a7" />
<circle cx="212.4" cy="1169.4" r="4.6" fill="#2b7a94" />
<circle cx="213.4" cy="1173.4" r="4.6" fill="#2b7a94" />
<circle cx="226.4" cy="1156.4" r="4.6" fill="#555555" />
<circle cx="221.4" cy="1158.4" r="4.6" fill="#c9dcf2" />
<circle cx="226.4" cy="1162.4" r="4.6" fill="#aca37a" />
<circle cx="226.4" cy="1167.4" r="4.6" fill="#aca37a" />
<circle cx="235.5" cy="1160.4" r="4.6" fill="#2b7a94" />
<circle cx="243.5" cy="1154.3" r="4.6" fill="#9b2fdc" />
<circle cx="242.5" cy="1158.4" r="4.6" fill="#9b2fdc" />
<circle cx="251.5" cy="1156.4" r="4.6" fill="#2b7a94" />
<circle cx="226.4" cy="1174.4" r="4.6" fill="#2b7a94" />
<circle cx="232.4" cy="1170.4" r="4.6" fill="#2b7a94" />
<circle cx="237.5" cy="1173.4" r="4.6" fill="#9b2fdc" />
<circle cx="246.5" cy="1174.8" r="4.6" fill="#9b2fdc" />
<circle cx="234.5" cy="1181.4" r="4.6" fill="#9b2fdc" />
<circle cx="230.4" cy="1183.4" r="4.6" fill="#9b2fdc" />
<circle cx="225.4" cy="1186.5" r="4.6" fill="#9b2fdc" />
<circle cx="211.4" cy="1182.4" r="4.6" fill="#c9dcf2" />
<circle cx="220.4" cy="1184.4" r="4.6" fill="#c9dcf2" />
<circle cx="227.0" cy="1191.5" r="4.6" fill="#d6337f" />
<circle cx="230.4" cy="1193.5" r="4.6" fill="#cccccc" />
<line x1="59.4" y1="862.0" x2="400.4" y2="862.0" stroke="#777" stroke-width="1.2" />
<line x1="400.4" y1="862.0" x2="400.4" y2="1194.0" stroke="#777" stroke-width="1.2" />
<line x1="59.4" y1="862.0" x2="59.4" y2="1194.0" stroke="#666" stroke-width="1.3" />
<line x1="59.4" y1="1194.0" x2="400.4" y2="1194.0" stroke="#666" stroke-width="1.3" />
<line x1="48.0" y1="862.0" x2="59.4" y2="862.0" stroke="#666" stroke-width="1.2" />
<text x="44.0" y="869.5" font-size="21" text-anchor="end">6</text>
<line x1="48.0" y1="972.7" x2="59.4" y2="972.7" stroke="#666" stroke-width="1.2" />
<text x="44.0" y="980.2" font-size="21" text-anchor="end">4</text>
<line x1="48.0" y1="1083.3" x2="59.4" y2="1083.3" stroke="#666" stroke-width="1.2" />
<text x="44.0" y="1090.8" font-size="21" text-anchor="end">2</text>
<line x1="48.0" y1="1194.0" x2="59.4" y2="1194.0" stroke="#666" stroke-width="1.2" />
<text x="44.0" y="1201.5" font-size="21" text-anchor="end">0</text>
<line x1="60.3" y1="1194.0" x2="60.3" y2="1198.0" stroke="#666" stroke-width="1.2" />
<line x1="88.6" y1="1194.0" x2="88.6" y2="1203.0" stroke="#666" stroke-width="1.2" />
<line x1="116.9" y1="1194.0" x2="116.9" y2="1198.0" stroke="#666" stroke-width="1.2" />
<line x1="145.1" y1="1194.0" x2="145.1" y2="1198.0" stroke="#666" stroke-width="1.2" />
<line x1="173.4" y1="1194.0" x2="173.4" y2="1198.0" stroke="#666" stroke-width="1.2" />
<line x1="201.6" y1="1194.0" x2="201.6" y2="1198.0" stroke="#666" stroke-width="1.2" />
<line x1="229.9" y1="1194.0" x2="229.9" y2="1203.0" stroke="#666" stroke-width="1.2" />
<line x1="258.2" y1="1194.0" x2="258.2" y2="1198.0" stroke="#666" stroke-width="1.2" />
<line x1="286.4" y1="1194.0" x2="286.4" y2="1198.0" stroke="#666" stroke-width="1.2" />
<line x1="314.7" y1="1194.0" x2="314.7" y2="1198.0" stroke="#666" stroke-width="1.2" />
<line x1="342.9" y1="1194.0" x2="342.9" y2="1198.0" stroke="#666" stroke-width="1.2" />
<line x1="371.2" y1="1194.0" x2="371.2" y2="1203.0" stroke="#666" stroke-width="1.2" />
<line x1="399.5" y1="1194.0" x2="399.5" y2="1198.0" stroke="#666" stroke-width="1.2" />
<text x="88.6" y="1227.7" font-size="21" text-anchor="middle">-5</text>
<text x="229.9" y="1227.7" font-size="21" text-anchor="middle">0</text>
<text x="371.2" y="1227.7" font-size="21" text-anchor="middle">5</text>
<text x="195.4" y="1260.0" font-size="21" textLength="71" lengthAdjust="spacingAndGlyphs">log2FC</text>
<text x="18.5" y="1093.5" font-size="21.5" transform="rotate(-90 18.5 1093.5)" textLength="137" lengthAdjust="spacingAndGlyphs">-log10 pvalue</text>
<text x="61.3" y="885.2" font-size="21" font-weight="bold" textLength="78.7" lengthAdjust="spacingAndGlyphs">Vero E6</text>
<text x="80.5" y="910.8" font-size="21" font-weight="bold" textLength="46" lengthAdjust="spacingAndGlyphs">cells</text>
<text x="325.0" y="884.0" font-size="21" font-weight="bold" textLength="75" lengthAdjust="spacingAndGlyphs">Virions</text>
<circle cx="417.2" cy="878.0" r="4" fill="#9b2fdc" />
<text x="424.6" y="885.8" font-size="22.5" fill="#9b2fdc" textLength="35.4" lengthAdjust="spacingAndGlyphs">Cer</text>
<circle cx="417.2" cy="899.4" r="4" fill="#2b7a94" />
<text x="424.6" y="907.2" font-size="22.5" fill="#2b7a94" textLength="32.1" lengthAdjust="spacingAndGlyphs">SM</text>
<circle cx="417.2" cy="918.8" r="4" fill="#d6337f" />
<text x="424.6" y="926.6" font-size="22.5" fill="#d0306f" textLength="76" lengthAdjust="spacingAndGlyphs">HexCer</text>
<circle cx="417.2" cy="937.2" r="4" fill="#0b1ee0" />
<text x="424.6" y="945.0" font-size="22.5" fill="#1a1ae0" textLength="29.6" lengthAdjust="spacingAndGlyphs">PA</text>
<circle cx="417.2" cy="964.3" r="4" fill="#e86a25" />
<text x="428.0" y="972.1" font-size="22.5" fill="#000" textLength="46" lengthAdjust="spacingAndGlyphs">TAG</text>
<circle cx="417.2" cy="985.7" r="4" fill="#555555" />
<text x="428.0" y="993.5" font-size="22.5" fill="#000" textLength="29.5" lengthAdjust="spacingAndGlyphs">PC</text>
<circle cx="417.2" cy="1004.6" r="4" fill="#aca37a" />
<text x="428.0" y="1012.4" font-size="22.5" fill="#000" textLength="28.7" lengthAdjust="spacingAndGlyphs">PE</text>
<circle cx="417.2" cy="1023.5" r="4" fill="#c9dcf2" />
<text x="428.0" y="1031.3" font-size="22.5" fill="#000" textLength="28.7" lengthAdjust="spacingAndGlyphs">PS</text>
<circle cx="417.2" cy="1044.0" r="4" fill="#c8f5c8" />
<text x="428.0" y="1051.8" font-size="22.5" fill="#000" textLength="31.2" lengthAdjust="spacingAndGlyphs">PG</text>
<circle cx="417.2" cy="1065.4" r="4" fill="#cccccc" />
<text x="428.0" y="1073.2" font-size="22.5" fill="#000" textLength="19.7" lengthAdjust="spacingAndGlyphs">PI</text>
<circle cx="417.2" cy="1086.7" r="4" fill="#c9a7a7" />
<text x="428.0" y="1094.5" font-size="22.5" fill="#000" textLength="90.4" lengthAdjust="spacingAndGlyphs">Other SL</text>
<text x="539.0" y="870.3" font-size="21" font-weight="bold">I</text>
<text x="540.0" y="1073.1" font-size="21" font-weight="bold">J</text>
<text x="598.3" y="883.0" font-size="19" font-weight="bold" textLength="77.2" lengthAdjust="spacingAndGlyphs">Vero E6</text>
<text x="617.3" y="908.7" font-size="19" font-weight="bold" textLength="44.5" lengthAdjust="spacingAndGlyphs">cells</text>
<text x="729.8" y="895.5" font-size="19" font-weight="bold" textLength="68.8" lengthAdjust="spacingAndGlyphs">Virions</text>
<circle cx="683.6" cy="965.6" r="2.6" fill="#000" />
<circle cx="685.4" cy="965.8" r="2.6" fill="#000" />
<circle cx="690.4" cy="965.5" r="2.6" fill="#000" />
<circle cx="686.2" cy="972.5" r="2.6" fill="#000" />
<circle cx="681.1" cy="971.2" r="2.6" fill="#000" />
<circle cx="677.9" cy="978.0" r="2.6" fill="#000" />
<circle cx="677.7" cy="979.9" r="2.6" fill="#000" />
<circle cx="669.2" cy="977.5" r="2.6" fill="#000" />
<circle cx="663.0" cy="982.2" r="2.6" fill="#000" />
<circle cx="678.9" cy="978.0" r="2.6" fill="#000" />
<circle cx="684.9" cy="977.8" r="2.6" fill="#000" />
<circle cx="688.8" cy="981.2" r="2.6" fill="#000" />
<circle cx="679.1" cy="984.5" r="2.6" fill="#000" />
<circle cx="678.2" cy="985.0" r="2.6" fill="#000" />
<circle cx="684.0" cy="981.3" r="2.6" fill="#000" />
<circle cx="690.6" cy="985.9" r="2.6" fill="#000" />
<circle cx="688.8" cy="985.9" r="2.6" fill="#000" />
<circle cx="683.1" cy="986.8" r="2.6" fill="#000" />
<circle cx="687.6" cy="993.5" r="2.6" fill="#000" />
<circle cx="707.5" cy="977.4" r="2.6" fill="#000" />
<circle cx="744.2" cy="994.0" r="2.6" fill="#000" />
<circle cx="656.6" cy="992.9" r="2.6" fill="#000" />
<circle cx="665.0" cy="991.7" r="2.6" fill="#000" />
<circle cx="665.3" cy="989.3" r="2.6" fill="#000" />
<circle cx="662.0" cy="994.6" r="2.6" fill="#000" />
<circle cx="675.2" cy="996.0" r="2.6" fill="#000" />
<circle cx="662.4" cy="992.5" r="2.6" fill="#000" />
<circle cx="667.0" cy="994.2" r="2.6" fill="#000" />
<circle cx="664.4" cy="1000.4" r="2.6" fill="#000" />
<circle cx="672.4" cy="999.5" r="2.6" fill="#000" />
<circle cx="652.9" cy="1003.0" r="2.6" fill="#000" />
<circle cx="673.8" cy="996.2" r="2.6" fill="#000" />
<circle cx="679.8" cy="999.3" r="2.6" fill="#000" />
<circle cx="689.5" cy="1000.1" r="2.6" fill="#000" />
<circle cx="701.5" cy="992.9" r="2.6" fill="#000" />
<circle cx="703.2" cy="997.2" r="2.6" fill="#000" />
<circle cx="674.6" cy="1001.7" r="2.6" fill="#000" />
<circle cx="662.2" cy="1006.0" r="2.6" fill="#000" />
<circle cx="660.9" cy="1007.8" r="2.6" fill="#000" />
<circle cx="671.8" cy="1008.7" r="2.6" fill="#000" />
<circle cx="675.1" cy="1010.9" r="2.6" fill="#000" />
<circle cx="680.1" cy="1001.0" r="2.6" fill="#000" />
<circle cx="674.2" cy="999.6" r="2.6" fill="#000" />
<circle cx="682.5" cy="1000.7" r="2.6" fill="#000" />
<circle cx="686.2" cy="1002.7" r="2.6" fill="#000" />
<circle cx="690.5" cy="1003.1" r="2.6" fill="#000" />
<circle cx="680.5" cy="1003.8" r="2.6" fill="#000" />
<circle cx="689.1" cy="1007.1" r="2.6" fill="#000" />
<circle cx="692.2" cy="1011.1" r="2.6" fill="#000" />
<circle cx="692.3" cy="1015.9" r="2.6" fill="#000" />
<circle cx="689.6" cy="1017.1" r="2.6" fill="#000" />
<circle cx="691.8" cy="1021.8" r="2.6" fill="#000" />
<circle cx="693.6" cy="1022.2" r="2.6" fill="#000" />
<circle cx="689.8" cy="1022.4" r="2.6" fill="#000" />
<circle cx="690.1" cy="1022.7" r="2.6" fill="#000" />
<circle cx="691.1" cy="1029.4" r="2.6" fill="#000" />
<circle cx="694.7" cy="1007.9" r="2.6" fill="#000" />
<circle cx="701.7" cy="999.2" r="2.6" fill="#000" />
<circle cx="709.0" cy="1003.7" r="2.6" fill="#000" />
<circle cx="696.9" cy="1005.6" r="2.6" fill="#d6337f" />
<circle cx="699.3" cy="1006.6" r="2.6" fill="#000" />
<circle cx="706.5" cy="1008.7" r="2.6" fill="#d6337f" />
<circle cx="704.1" cy="1011.1" r="2.6" fill="#000" />
<circle cx="696.1" cy="1013.2" r="2.6" fill="#d6337f" />
<circle cx="701.0" cy="1014.8" r="2.6" fill="#d6337f" />
<circle cx="705.3" cy="1011.4" r="2.6" fill="#000" />
<circle cx="704.9" cy="1018.0" r="2.6" fill="#000" />
<circle cx="707.9" cy="1016.4" r="2.6" fill="#d6337f" />
<circle cx="699.8" cy="1016.6" r="2.6" fill="#d6337f" />
<circle cx="699.9" cy="1019.5" r="2.6" fill="#000" />
<circle cx="700.3" cy="1026.4" r="2.6" fill="#d6337f" />
<circle cx="698.0" cy="1024.0" r="2.6" fill="#000" />
<circle cx="698.4" cy="1028.6" r="2.6" fill="#d6337f" />
<circle cx="703.9" cy="1026.3" r="2.6" fill="#d6337f" />
<circle cx="705.3" cy="1030.2" r="2.6" fill="#d6337f" />
<circle cx="714.8" cy="1024.1" r="2.6" fill="#d6337f" />
<circle cx="668.4" cy="1015.4" r="2.6" fill="#000" />
<circle cx="675.9" cy="1015.3" r="2.6" fill="#000" />
<circle cx="677.3" cy="1018.2" r="2.6" fill="#d6337f" />
<circle cx="677.5" cy="1017.4" r="2.6" fill="#000" />
<circle cx="667.5" cy="1019.8" r="2.6" fill="#000" />
<circle cx="668.5" cy="1020.2" r="2.6" fill="#000" />
<circle cx="669.8" cy="1023.2" r="2.6" fill="#d6337f" />
<circle cx="675.8" cy="1028.6" r="2.6" fill="#000" />
<circle cx="672.6" cy="1030.8" r="2.6" fill="#000" />
<circle cx="679.9" cy="1025.5" r="2.6" fill="#000" />
<circle cx="685.0" cy="1028.0" r="2.6" fill="#000" />
<circle cx="684.9" cy="1029.3" r="2.6" fill="#000" />
<circle cx="685.8" cy="1030.1" r="2.6" fill="#000" />
<circle cx="689.7" cy="1033.7" r="2.6" fill="#d6337f" />
<circle cx="689.2" cy="1035.0" r="2.6" fill="#d6337f" />
<circle cx="688.1" cy="1038.7" r="2.6" fill="#d6337f" />
<circle cx="691.6" cy="1032.4" r="2.6" fill="#000" />
<circle cx="692.0" cy="1036.3" r="2.6" fill="#000" />
<circle cx="695.2" cy="1034.9" r="2.6" fill="#d6337f" />
<circle cx="702.0" cy="1034.0" r="2.6" fill="#d6337f" />
<circle cx="693.9" cy="1041.9" r="2.6" fill="#d6337f" />
<circle cx="694.4" cy="1036.3" r="2.6" fill="#d6337f" />
<circle cx="702.2" cy="1038.8" r="2.6" fill="#d6337f" />
<circle cx="697.2" cy="1039.2" r="2.6" fill="#d6337f" />
<circle cx="694.5" cy="1040.2" r="2.6" fill="#d6337f" />
<circle cx="693.2" cy="1045.4" r="2.6" fill="#d6337f" />
<circle cx="690.5" cy="1042.0" r="2.6" fill="#000" />
<circle cx="693.6" cy="1048.6" r="2.6" fill="#d6337f" />
<circle cx="692.8" cy="1048.0" r="2.6" fill="#000" />
<circle cx="723.2" cy="932.2" r="2.6" fill="#d6337f" />
<circle cx="673.7" cy="953.3" r="2.6" fill="#000" />
<circle cx="681.7" cy="953.9" r="2.6" fill="#000" />
<circle cx="675.0" cy="957.3" r="2.6" fill="#000" />
<circle cx="713.0" cy="953.3" r="2.6" fill="#000" />
<circle cx="714.6" cy="959.0" r="2.6" fill="#d6337f" />
<circle cx="718.1" cy="961.1" r="2.6" fill="#d6337f" />
<circle cx="713.6" cy="964.9" r="2.6" fill="#d6337f" />
<circle cx="719.8" cy="968.0" r="2.6" fill="#d6337f" />
<circle cx="713.2" cy="969.5" r="2.6" fill="#d6337f" />
<circle cx="671.0" cy="963.1" r="2.6" fill="#000" />
<circle cx="681.7" cy="964.2" r="2.6" fill="#000" />
<circle cx="683.7" cy="962.9" r="2.6" fill="#000" />
<circle cx="675.2" cy="966.0" r="2.6" fill="#000" />
<circle cx="678.7" cy="967.1" r="2.6" fill="#000" />
<circle cx="685.6" cy="967.3" r="2.6" fill="#000" />
<circle cx="690.0" cy="968.4" r="2.6" fill="#000" />
<circle cx="687.4" cy="970.0" r="2.6" fill="#000" />
<circle cx="681.5" cy="971.9" r="2.6" fill="#000" />
<circle cx="679.6" cy="973.4" r="2.6" fill="#000" />
<circle cx="674.2" cy="975.6" r="2.6" fill="#000" />
<circle cx="680.4" cy="975.8" r="2.6" fill="#000" />
<circle cx="679.2" cy="977.0" r="2.6" fill="#000" />
<circle cx="684.6" cy="976.6" r="2.6" fill="#000" />
<circle cx="666.9" cy="977.2" r="2.6" fill="#000" />
<circle cx="655.6" cy="980.3" r="2.6" fill="#000" />
<circle cx="660.8" cy="981.1" r="2.6" fill="#000" />
<circle cx="675.8" cy="978.2" r="2.6" fill="#000" />
<circle cx="675.8" cy="980.2" r="2.6" fill="#000" />
<circle cx="679.6" cy="980.0" r="2.6" fill="#000" />
<circle cx="687.1" cy="979.0" r="2.6" fill="#000" />
<circle cx="688.3" cy="980.6" r="2.6" fill="#000" />
<circle cx="687.9" cy="982.2" r="2.6" fill="#000" />
<circle cx="677.5" cy="984.7" r="2.6" fill="#000" />
<circle cx="678.3" cy="983.8" r="2.6" fill="#000" />
<circle cx="681.7" cy="984.2" r="2.6" fill="#000" />
<circle cx="684.1" cy="982.6" r="2.6" fill="#000" />
<circle cx="686.3" cy="985.9" r="2.6" fill="#000" />
<circle cx="689.2" cy="986.7" r="2.6" fill="#000" />
<circle cx="691.3" cy="988.7" r="2.6" fill="#000" />
<circle cx="680.8" cy="988.7" r="2.6" fill="#000" />
<circle cx="683.3" cy="989.1" r="2.6" fill="#000" />
<circle cx="684.1" cy="991.9" r="2.6" fill="#000" />
<circle cx="680.8" cy="992.3" r="2.6" fill="#000" />
<circle cx="688.3" cy="993.3" r="2.6" fill="#000" />
<circle cx="690.8" cy="993.9" r="2.6" fill="#000" />
<circle cx="706.3" cy="975.6" r="2.6" fill="#000" />
<circle cx="706.0" cy="979.2" r="2.6" fill="#d6337f" />
<circle cx="708.8" cy="980.0" r="2.6" fill="#d6337f" />
<circle cx="703.0" cy="982.4" r="2.6" fill="#d6337f" />
<circle cx="714.9" cy="983.4" r="2.6" fill="#d6337f" />
<circle cx="707.7" cy="986.3" r="2.6" fill="#d6337f" />
<circle cx="715.7" cy="987.5" r="2.6" fill="#d6337f" />
<circle cx="734.3" cy="985.6" r="2.6" fill="#000" />
<circle cx="742.0" cy="996.4" r="2.6" fill="#000" />
<circle cx="656.0" cy="990.4" r="2.6" fill="#000" />
<circle cx="662.9" cy="991.5" r="2.6" fill="#000" />
<circle cx="666.2" cy="991.2" r="2.6" fill="#000" />
<circle cx="663.7" cy="993.5" r="2.6" fill="#000" />
<circle cx="665.4" cy="995.1" r="2.6" fill="#000" />
<circle cx="677.5" cy="993.1" r="2.6" fill="#000" />
<circle cx="662.9" cy="994.1" r="2.6" fill="#000" />
<circle cx="665.4" cy="994.5" r="2.6" fill="#000" />
<circle cx="666.6" cy="997.9" r="2.6" fill="#000" />
<circle cx="672.5" cy="997.5" r="2.6" fill="#000" />
<circle cx="651.8" cy="1000.3" r="2.6" fill="#000" />
<circle cx="661.4" cy="998.3" r="2.6" fill="#000" />
<circle cx="669.5" cy="999.9" r="2.6" fill="#000" />
<circle cx="674.2" cy="998.3" r="2.6" fill="#000" />
<circle cx="677.7" cy="997.1" r="2.6" fill="#000" />
<circle cx="680.0" cy="996.3" r="2.6" fill="#000" />
<circle cx="681.7" cy="996.7" r="2.6" fill="#000" />
<circle cx="686.3" cy="997.1" r="2.6" fill="#000" />
<circle cx="689.6" cy="998.7" r="2.6" fill="#000" />
<circle cx="702.5" cy="993.5" r="2.6" fill="#000" />
<circle cx="703.8" cy="994.3" r="2.6" fill="#000" />
<circle cx="703.8" cy="997.5" r="2.6" fill="#d6337f" />
<circle cx="702.1" cy="998.7" r="2.6" fill="#d6337f" />
<circle cx="708.4" cy="995.9" r="2.6" fill="#d6337f" />
<circle cx="709.2" cy="997.1" r="2.6" fill="#d6337f" />
<circle cx="707.5" cy="999.9" r="2.6" fill="#d6337f" />
<circle cx="719.1" cy="999.4" r="2.6" fill="#d6337f" />
<circle cx="698.4" cy="999.9" r="2.6" fill="#000" />
<circle cx="672.3" cy="1001.3" r="2.6" fill="#000" />
<circle cx="675.4" cy="1004.2" r="2.6" fill="#000" />
<circle cx="660.8" cy="1003.8" r="2.6" fill="#000" />
<circle cx="659.5" cy="1006.2" r="2.6" fill="#000" />
<circle cx="662.5" cy="1006.8" r="2.6" fill="#000" />
<circle cx="664.3" cy="1009.4" r="2.6" fill="#000" />
<circle cx="671.5" cy="1005.5" r="2.6" fill="#000" />
<circle cx="670.8" cy="1010.1" r="2.6" fill="#000" />
<circle cx="673.7" cy="1009.8" r="2.6" fill="#000" />
<circle cx="677.9" cy="1000.1" r="2.6" fill="#000" />
<circle cx="676.7" cy="999.3" r="2.6" fill="#000" />
<circle cx="681.7" cy="1000.9" r="2.6" fill="#000" />
<circle cx="688.3" cy="994.1" r="2.6" fill="#000" />
<circle cx="690.8" cy="994.1" r="2.6" fill="#000" />
<circle cx="683.3" cy="999.3" r="2.6" fill="#000" />
<circle cx="685.4" cy="1001.3" r="2.6" fill="#000" />
<circle cx="684.1" cy="1003.8" r="2.6" fill="#000" />
<circle cx="688.8" cy="1000.9" r="2.6" fill="#000" />
<circle cx="691.3" cy="1000.5" r="2.6" fill="#000" />
<circle cx="691.3" cy="1003.3" r="2.6" fill="#000" />
<circle cx="692.1" cy="1005.8" r="2.6" fill="#000" />
<circle cx="680.4" cy="1005.8" r="2.6" fill="#000" />
<circle cx="685.0" cy="1007.4" r="2.6" fill="#000" />
<circle cx="685.9" cy="1009.4" r="2.6" fill="#000" />
<circle cx="688.2" cy="1005.8" r="2.6" fill="#000" />
<circle cx="688.3" cy="1009.0" r="2.6" fill="#000" />
<circle cx="690.8" cy="1010.6" r="2.6" fill="#000" />
<circle cx="690.4" cy="1012.6" r="2.6" fill="#000" />
<circle cx="691.7" cy="1014.2" r="2.6" fill="#000" />
<circle cx="687.5" cy="1015.4" r="2.6" fill="#000" />
<circle cx="690.0" cy="1016.6" r="2.6" fill="#000" />
<circle cx="691.3" cy="1017.4" r="2.6" fill="#000" />
<circle cx="689.2" cy="1018.6" r="2.6" fill="#000" />
<circle cx="690.8" cy="1021.0" r="2.6" fill="#000" />
<circle cx="693.8" cy="1023.9" r="2.6" fill="#000" />
<circle cx="691.7" cy="1023.5" r="2.6" fill="#000" />
<circle cx="691.7" cy="1025.5" r="2.6" fill="#000" />
<circle cx="691.7" cy="1028.7" r="2.6" fill="#000" />
<circle cx="696.0" cy="1005.5" r="2.6" fill="#000" />
<circle cx="702.5" cy="999.3" r="2.6" fill="#d6337f" />
<circle cx="704.2" cy="997.7" r="2.6" fill="#d6337f" />
<circle cx="702.1" cy="1000.5" r="2.6" fill="#000" />
<circle cx="708.6" cy="995.6" r="2.6" fill="#d6337f" />
<circle cx="709.1" cy="997.2" r="2.6" fill="#d6337f" />
<circle cx="707.7" cy="999.9" r="2.6" fill="#d6337f" />
<circle cx="710.9" cy="1001.7" r="2.6" fill="#000" />
<circle cx="698.8" cy="1005.0" r="2.6" fill="#d6337f" />
<circle cx="699.0" cy="1007.6" r="2.6" fill="#000" />
<circle cx="704.6" cy="1006.8" r="2.6" fill="#d6337f" />
<circle cx="702.5" cy="1010.2" r="2.6" fill="#000" />
<circle cx="697.5" cy="1012.6" r="2.6" fill="#d6337f" />
<circle cx="699.2" cy="1012.0" r="2.6" fill="#d6337f" />
<circle cx="702.1" cy="1014.9" r="2.6" fill="#000" />
<circle cx="703.4" cy="1014.4" r="2.6" fill="#000" />
<circle cx="704.6" cy="1017.3" r="2.6" fill="#000" />
<circle cx="707.4" cy="1014.1" r="2.6" fill="#d6337f" />
<circle cx="700.0" cy="1018.2" r="2.6" fill="#d6337f" />
<circle cx="697.5" cy="1020.2" r="2.6" fill="#000" />
<circle cx="700.0" cy="1020.6" r="2.6" fill="#d6337f" />
<circle cx="702.5" cy="1021.9" r="2.6" fill="#d6337f" />
<circle cx="701.3" cy="1023.5" r="2.6" fill="#d6337f" />
<circle cx="698.4" cy="1025.1" r="2.6" fill="#000" />
<circle cx="698.4" cy="1027.1" r="2.6" fill="#000" />
<circle cx="699.2" cy="1028.7" r="2.6" fill="#d6337f" />
<circle cx="703.4" cy="1026.7" r="2.6" fill="#d6337f" />
<circle cx="704.2" cy="1028.3" r="2.6" fill="#d6337f" />
<circle cx="714.6" cy="1025.5" r="2.6" fill="#d6337f" />
<circle cx="667.5" cy="1017.8" r="2.6" fill="#000" />
<circle cx="669.1" cy="1019.0" r="2.6" fill="#000" />
<circle cx="669.5" cy="1017.4" r="2.6" fill="#000" />
<circle cx="673.7" cy="1016.2" r="2.6" fill="#000" />
<circle cx="675.4" cy="1015.4" r="2.6" fill="#000" />
<circle cx="676.9" cy="1016.8" r="2.6" fill="#d6337f" />
<circle cx="676.2" cy="1018.6" r="2.6" fill="#000" />
<circle cx="668.3" cy="1021.0" r="2.6" fill="#000" />
<circle cx="668.7" cy="1021.0" r="2.6" fill="#000" />
<circle cx="677.7" cy="1021.0" r="2.6" fill="#000" />
<circle cx="671.6" cy="1024.7" r="2.6" fill="#d6337f" />
<circle cx="673.7" cy="1026.3" r="2.6" fill="#000" />
<circle cx="675.0" cy="1029.1" r="2.6" fill="#000" />
<circle cx="679.6" cy="1024.3" r="2.6" fill="#000" />
<circle cx="685.0" cy="1024.7" r="2.6" fill="#000" />
<circle cx="682.9" cy="1028.7" r="2.6" fill="#000" />
<circle cx="683.1" cy="1031.1" r="2.6" fill="#000" />
<circle cx="684.1" cy="1032.7" r="2.6" fill="#000" />
<circle cx="684.8" cy="1033.5" r="2.6" fill="#000" />
<circle cx="690.0" cy="1035.0" r="2.6" fill="#d6337f" />
<circle cx="687.5" cy="1037.1" r="2.6" fill="#d6337f" />
<circle cx="687.9" cy="1038.7" r="2.6" fill="#d6337f" />
<circle cx="693.3" cy="1031.9" r="2.6" fill="#000" />
<circle cx="691.3" cy="1032.7" r="2.6" fill="#000" />
<circle cx="693.3" cy="1034.3" r="2.6" fill="#000" />
<circle cx="693.3" cy="1036.3" r="2.6" fill="#000" />
<circle cx="697.1" cy="1033.5" r="2.6" fill="#d6337f" />
<circle cx="700.5" cy="1031.1" r="2.6" fill="#d6337f" />
<circle cx="700.0" cy="1032.7" r="2.6" fill="#d6337f" />
<circle cx="703.8" cy="1031.9" r="2.6" fill="#d6337f" />
<circle cx="693.3" cy="1039.1" r="2.6" fill="#d6337f" />
<circle cx="695.8" cy="1037.5" r="2.6" fill="#d6337f" />
<circle cx="698.0" cy="1038.7" r="2.6" fill="#d6337f" />
<circle cx="701.7" cy="1039.3" r="2.6" fill="#d6337f" />
<circle cx="696.7" cy="1042.0" r="2.6" fill="#d6337f" />
<circle cx="695.0" cy="1042.8" r="2.6" fill="#d6337f" />
<circle cx="692.9" cy="1044.0" r="2.6" fill="#d6337f" />
<circle cx="687.1" cy="1042.4" r="2.6" fill="#000" />
<circle cx="690.8" cy="1043.2" r="2.6" fill="#000" />
<circle cx="693.6" cy="1046.0" r="2.6" fill="#d6337f" />
<circle cx="695.0" cy="1046.8" r="2.6" fill="#000" />
<line x1="614.0" y1="914.0" x2="624.7" y2="914.0" stroke="#000" stroke-width="1.4" />
<text x="610.5" y="921.2" font-size="20" text-anchor="end">6</text>
<line x1="614.0" y1="958.3" x2="624.7" y2="958.3" stroke="#000" stroke-width="1.4" />
<text x="610.5" y="965.5" font-size="20" text-anchor="end">4</text>
<line x1="614.0" y1="1002.7" x2="624.7" y2="1002.7" stroke="#000" stroke-width="1.4" />
<text x="610.5" y="1009.9" font-size="20" text-anchor="end">2</text>
<line x1="614.0" y1="1047.0" x2="624.7" y2="1047.0" stroke="#000" stroke-width="1.4" />
<text x="610.5" y="1049.2" font-size="20" text-anchor="end">0</text>
<line x1="636.0" y1="1047.0" x2="636.0" y2="1056.0" stroke="#000" stroke-width="1.4" />
<line x1="694.8" y1="1047.0" x2="694.8" y2="1056.0" stroke="#000" stroke-width="1.4" />
<line x1="753.6" y1="1047.0" x2="753.6" y2="1056.0" stroke="#000" stroke-width="1.4" />
<line x1="624.7" y1="914.0" x2="765.5" y2="914.0" stroke="#000" stroke-width="1.6" />
<line x1="765.5" y1="914.0" x2="765.5" y2="1047.0" stroke="#000" stroke-width="1.6" />
<line x1="624.7" y1="914.0" x2="624.7" y2="1047.8" stroke="#000" stroke-width="1.8" />
<line x1="614.0" y1="1047.0" x2="766.3" y2="1047.0" stroke="#000" stroke-width="1.8" />
<text x="628.4" y="938.3" font-size="20" font-weight="bold" textLength="57.2" lengthAdjust="spacingAndGlyphs">siCtrl</text>
<circle cx="687.8" cy="1091.8" r="2.6" fill="#000" />
<circle cx="657.4" cy="1104.4" r="2.6" fill="#000" />
<circle cx="661.4" cy="1103.0" r="2.6" fill="#000" />
<circle cx="646.8" cy="1108.3" r="2.6" fill="#000" />
<circle cx="642.2" cy="1115.0" r="2.6" fill="#000" />
<circle cx="655.4" cy="1113.2" r="2.6" fill="#000" />
<circle cx="665.3" cy="1113.6" r="2.6" fill="#000" />
<circle cx="681.9" cy="1107.0" r="2.6" fill="#000" />
<circle cx="687.8" cy="1109.0" r="2.6" fill="#000" />
<circle cx="683.2" cy="1113.0" r="2.6" fill="#000" />
<circle cx="681.2" cy="1115.0" r="2.6" fill="#000" />
<circle cx="676.6" cy="1118.3" r="2.6" fill="#000" />
<circle cx="713.6" cy="1119.3" r="2.6" fill="#000" />
<circle cx="660.0" cy="1122.9" r="2.6" fill="#000" />
<circle cx="664.7" cy="1124.9" r="2.6" fill="#000" />
<circle cx="670.0" cy="1126.2" r="2.6" fill="#000" />
<circle cx="676.6" cy="1126.2" r="2.6" fill="#000" />
<circle cx="680.6" cy="1124.9" r="2.6" fill="#000" />
<circle cx="684.5" cy="1126.9" r="2.6" fill="#000" />
<circle cx="689.2" cy="1125.5" r="2.6" fill="#000" />
<circle cx="689.2" cy="1128.2" r="2.6" fill="#000" />
<circle cx="648.2" cy="1133.5" r="2.6" fill="#000" />
<circle cx="670.6" cy="1133.5" r="2.6" fill="#000" />
<circle cx="679.2" cy="1132.8" r="2.6" fill="#000" />
<circle cx="683.2" cy="1135.5" r="2.6" fill="#000" />
<circle cx="687.2" cy="1138.1" r="2.6" fill="#000" />
<circle cx="681.9" cy="1139.4" r="2.6" fill="#000" />
<circle cx="653.4" cy="1140.8" r="2.6" fill="#000" />
<circle cx="654.1" cy="1144.7" r="2.6" fill="#000" />
<circle cx="662.7" cy="1146.7" r="2.6" fill="#000" />
<circle cx="674.0" cy="1144.5" r="2.6" fill="#000" />
<circle cx="652.8" cy="1153.3" r="2.6" fill="#000" />
<circle cx="658.7" cy="1152.7" r="2.6" fill="#000" />
<circle cx="660.7" cy="1154.0" r="2.6" fill="#000" />
<circle cx="663.4" cy="1159.3" r="2.6" fill="#000" />
<circle cx="662.7" cy="1163.2" r="2.6" fill="#000" />
<circle cx="670.6" cy="1160.0" r="2.6" fill="#000" />
<circle cx="672.6" cy="1161.9" r="2.6" fill="#000" />
<circle cx="709.7" cy="1154.0" r="2.6" fill="#000" />
<circle cx="711.0" cy="1158.0" r="2.6" fill="#000" />
<circle cx="668.7" cy="1173.2" r="2.6" fill="#000" />
<circle cx="672.6" cy="1175.2" r="2.6" fill="#000" />
<circle cx="675.3" cy="1181.1" r="2.6" fill="#000" />
<circle cx="677.9" cy="1169.9" r="2.6" fill="#000" />
<circle cx="680.6" cy="1173.8" r="2.6" fill="#000" />
<circle cx="683.2" cy="1171.2" r="2.6" fill="#000" />
<circle cx="683.2" cy="1179.1" r="2.6" fill="#000" />
<circle cx="685.9" cy="1184.4" r="2.6" fill="#000" />
<circle cx="688.5" cy="1189.7" r="2.6" fill="#000" />
<circle cx="691.1" cy="1193.7" r="2.6" fill="#000" />
<circle cx="689.8" cy="1165.9" r="2.6" fill="#000" />
<circle cx="692.5" cy="1171.2" r="2.6" fill="#000" />
<circle cx="693.8" cy="1176.5" r="2.6" fill="#000" />
<circle cx="695.1" cy="1181.8" r="2.6" fill="#000" />
<circle cx="732.8" cy="1169.9" r="2.6" fill="#000" />
<circle cx="740.1" cy="1170.5" r="2.6" fill="#000" />
<circle cx="682.6" cy="1151.3" r="2.6" fill="#000" />
<circle cx="691.6" cy="1149.2" r="2.6" fill="#000" />
<circle cx="683.6" cy="1151.9" r="2.6" fill="#000" />
<circle cx="677.5" cy="1150.3" r="2.6" fill="#000" />
<circle cx="686.0" cy="1156.4" r="2.6" fill="#000" />
<circle cx="675.8" cy="1145.7" r="2.6" fill="#000" />
<circle cx="675.7" cy="1156.8" r="2.6" fill="#000" />
<circle cx="687.2" cy="1139.9" r="2.6" fill="#000" />
<circle cx="692.7" cy="1160.2" r="2.6" fill="#000" />
<circle cx="686.4" cy="1152.5" r="2.6" fill="#000" />
<circle cx="677.0" cy="1139.3" r="2.6" fill="#000" />
<circle cx="684.0" cy="1140.3" r="2.6" fill="#000" />
<circle cx="677.6" cy="1144.3" r="2.6" fill="#000" />
<circle cx="674.6" cy="1149.2" r="2.6" fill="#000" />
<circle cx="682.4" cy="1157.5" r="2.6" fill="#000" />
<circle cx="683.9" cy="1153.1" r="2.6" fill="#000" />
<circle cx="683.5" cy="1153.6" r="2.6" fill="#000" />
<circle cx="682.7" cy="1145.1" r="2.6" fill="#000" />
<circle cx="693.0" cy="1160.9" r="2.6" fill="#000" />
<circle cx="690.0" cy="1154.6" r="2.6" fill="#000" />
<circle cx="680.0" cy="1144.1" r="2.6" fill="#000" />
<circle cx="679.5" cy="1140.5" r="2.6" fill="#000" />
<circle cx="688.6" cy="1147.8" r="2.6" fill="#000" />
<circle cx="690.1" cy="1147.5" r="2.6" fill="#000" />
<circle cx="692.2" cy="1157.6" r="2.6" fill="#000" />
<circle cx="674.0" cy="1143.6" r="2.6" fill="#000" />
<circle cx="691.3" cy="1149.3" r="2.6" fill="#000" />
<circle cx="692.6" cy="1147.7" r="2.6" fill="#000" />
<circle cx="675.4" cy="1152.8" r="2.6" fill="#000" />
<circle cx="688.8" cy="1144.9" r="2.6" fill="#000" />
<circle cx="675.7" cy="1146.3" r="2.6" fill="#000" />
<circle cx="692.3" cy="1155.7" r="2.6" fill="#000" />
<circle cx="676.2" cy="1144.4" r="2.6" fill="#000" />
<circle cx="675.9" cy="1140.3" r="2.6" fill="#000" />
<circle cx="689.1" cy="1142.9" r="2.6" fill="#000" />
<circle cx="684.6" cy="1148.8" r="2.6" fill="#000" />
<circle cx="677.6" cy="1155.1" r="2.6" fill="#000" />
<circle cx="676.5" cy="1153.2" r="2.6" fill="#000" />
<circle cx="676.2" cy="1148.3" r="2.6" fill="#000" />
<circle cx="678.0" cy="1144.9" r="2.6" fill="#000" />
<circle cx="692.4" cy="1156.7" r="2.6" fill="#000" />
<circle cx="679.8" cy="1158.5" r="2.6" fill="#000" />
<circle cx="678.0" cy="1147.7" r="2.6" fill="#000" />
<circle cx="690.2" cy="1153.1" r="2.6" fill="#000" />
<circle cx="675.9" cy="1160.8" r="2.6" fill="#000" />
<circle cx="678.1" cy="1144.7" r="2.6" fill="#000" />
<circle cx="688.7" cy="1146.2" r="2.6" fill="#000" />
<circle cx="679.6" cy="1140.6" r="2.6" fill="#000" />
<circle cx="675.7" cy="1151.8" r="2.6" fill="#000" />
<circle cx="678.6" cy="1152.2" r="2.6" fill="#000" />
<circle cx="681.1" cy="1149.0" r="2.6" fill="#000" />
<circle cx="692.2" cy="1149.6" r="2.6" fill="#000" />
<circle cx="684.9" cy="1158.1" r="2.6" fill="#000" />
<circle cx="677.5" cy="1142.4" r="2.6" fill="#000" />
<circle cx="691.3" cy="1157.0" r="2.6" fill="#000" />
<circle cx="678.7" cy="1143.2" r="2.6" fill="#000" />
<circle cx="688.0" cy="1159.7" r="2.6" fill="#000" />
<circle cx="677.7" cy="1159.9" r="2.6" fill="#000" />
<circle cx="690.8" cy="1152.3" r="2.6" fill="#000" />
<circle cx="682.0" cy="1141.3" r="2.6" fill="#000" />
<circle cx="675.6" cy="1163.2" r="2.6" fill="#000" />
<circle cx="684.6" cy="1186.8" r="2.6" fill="#000" />
<circle cx="682.7" cy="1180.8" r="2.6" fill="#000" />
<circle cx="683.8" cy="1185.0" r="2.6" fill="#000" />
<circle cx="685.3" cy="1181.4" r="2.6" fill="#000" />
<circle cx="680.1" cy="1170.8" r="2.6" fill="#000" />
<circle cx="670.9" cy="1163.3" r="2.6" fill="#000" />
<circle cx="671.3" cy="1164.4" r="2.6" fill="#000" />
<circle cx="681.2" cy="1180.8" r="2.6" fill="#000" />
<circle cx="692.7" cy="1192.1" r="2.6" fill="#000" />
<circle cx="686.3" cy="1183.7" r="2.6" fill="#000" />
<circle cx="669.8" cy="1165.8" r="2.6" fill="#000" />
<circle cx="688.8" cy="1183.5" r="2.6" fill="#000" />
<circle cx="684.6" cy="1184.3" r="2.6" fill="#000" />
<circle cx="681.4" cy="1171.5" r="2.6" fill="#000" />
<circle cx="684.3" cy="1182.1" r="2.6" fill="#000" />
<circle cx="688.0" cy="1187.8" r="2.6" fill="#000" />
<circle cx="689.4" cy="1193.0" r="2.6" fill="#000" />
<circle cx="692.2" cy="1191.5" r="2.6" fill="#000" />
<circle cx="690.0" cy="1188.6" r="2.6" fill="#000" />
<circle cx="683.8" cy="1183.3" r="2.6" fill="#000" />
<circle cx="681.7" cy="1183.0" r="2.6" fill="#000" />
<circle cx="694.1" cy="1195.7" r="2.6" fill="#000" />
<circle cx="681.2" cy="1175.8" r="2.6" fill="#000" />
<circle cx="682.8" cy="1175.4" r="2.6" fill="#000" />
<circle cx="684.2" cy="1187.4" r="2.6" fill="#000" />
<circle cx="680.0" cy="1179.2" r="2.6" fill="#000" />
<circle cx="682.6" cy="1180.6" r="2.6" fill="#000" />
<circle cx="674.2" cy="1170.4" r="2.6" fill="#000" />
<circle cx="683.8" cy="1183.4" r="2.6" fill="#000" />
<circle cx="639.3" cy="1152.7" r="2.6" fill="#d6337f" />
<circle cx="715.6" cy="1148.0" r="2.6" fill="#d6337f" />
<circle cx="717.6" cy="1152.7" r="2.6" fill="#d6337f" />
<circle cx="718.9" cy="1156.6" r="2.6" fill="#d6337f" />
<circle cx="720.2" cy="1160.6" r="2.6" fill="#d6337f" />
<circle cx="722.9" cy="1163.2" r="2.6" fill="#d6337f" />
<circle cx="726.2" cy="1152.7" r="2.6" fill="#d6337f" />
<circle cx="726.2" cy="1159.3" r="2.6" fill="#d6337f" />
<circle cx="725.5" cy="1165.2" r="2.6" fill="#d6337f" />
<circle cx="699.1" cy="1158.0" r="2.6" fill="#d6337f" />
<circle cx="704.4" cy="1156.6" r="2.6" fill="#d6337f" />
<circle cx="707.0" cy="1160.6" r="2.6" fill="#d6337f" />
<circle cx="711.0" cy="1159.3" r="2.6" fill="#d6337f" />
<circle cx="705.7" cy="1165.9" r="2.6" fill="#d6337f" />
<circle cx="709.7" cy="1168.5" r="2.6" fill="#d6337f" />
<circle cx="701.7" cy="1165.9" r="2.6" fill="#d6337f" />
<circle cx="691.1" cy="1160.6" r="2.6" fill="#d6337f" />
<circle cx="689.2" cy="1167.9" r="2.6" fill="#d6337f" />
<circle cx="692.5" cy="1181.8" r="2.6" fill="#d6337f" />
<circle cx="673.3" cy="1164.6" r="2.6" fill="#d6337f" />
<circle cx="670.0" cy="1179.1" r="2.6" fill="#d6337f" />
<circle cx="717.6" cy="1171.2" r="2.6" fill="#d6337f" />
<circle cx="720.2" cy="1172.5" r="2.6" fill="#d6337f" />
<circle cx="707.6" cy="1157.8" r="2.6" fill="#d6337f" />
<circle cx="706.7" cy="1164.1" r="2.6" fill="#d6337f" />
<circle cx="694.4" cy="1193.8" r="2.6" fill="#d6337f" />
<circle cx="716.4" cy="1157.9" r="2.6" fill="#d6337f" />
<circle cx="705.2" cy="1177.4" r="2.6" fill="#d6337f" />
<circle cx="710.5" cy="1175.9" r="2.6" fill="#d6337f" />
<circle cx="712.9" cy="1169.4" r="2.6" fill="#d6337f" />
<circle cx="698.0" cy="1193.4" r="2.6" fill="#d6337f" />
<circle cx="696.5" cy="1193.1" r="2.6" fill="#d6337f" />
<circle cx="701.2" cy="1184.6" r="2.6" fill="#d6337f" />
<circle cx="710.1" cy="1156.3" r="2.6" fill="#d6337f" />
<circle cx="701.0" cy="1196.0" r="2.6" fill="#d6337f" />
<circle cx="703.7" cy="1169.2" r="2.6" fill="#d6337f" />
<circle cx="712.9" cy="1166.2" r="2.6" fill="#d6337f" />
<circle cx="714.1" cy="1182.6" r="2.6" fill="#d6337f" />
<circle cx="702.9" cy="1191.1" r="2.6" fill="#d6337f" />
<circle cx="699.6" cy="1175.2" r="2.6" fill="#d6337f" />
<circle cx="712.6" cy="1166.9" r="2.6" fill="#d6337f" />
<circle cx="710.0" cy="1174.0" r="2.6" fill="#d6337f" />
<circle cx="706.3" cy="1192.7" r="2.6" fill="#d6337f" />
<circle cx="710.4" cy="1171.7" r="2.6" fill="#d6337f" />
<circle cx="701.4" cy="1183.6" r="2.6" fill="#d6337f" />
<circle cx="707.1" cy="1172.2" r="2.6" fill="#d6337f" />
<circle cx="711.8" cy="1165.4" r="2.6" fill="#d6337f" />
<circle cx="711.3" cy="1157.3" r="2.6" fill="#d6337f" />
<circle cx="696.8" cy="1178.1" r="2.6" fill="#d6337f" />
<circle cx="694.6" cy="1183.0" r="2.6" fill="#d6337f" />
<circle cx="716.2" cy="1164.8" r="2.6" fill="#d6337f" />
<circle cx="710.0" cy="1176.8" r="2.6" fill="#d6337f" />
<circle cx="703.7" cy="1161.5" r="2.6" fill="#d6337f" />
<circle cx="711.7" cy="1187.2" r="2.6" fill="#d6337f" />
<circle cx="700.7" cy="1155.2" r="2.6" fill="#d6337f" />
<circle cx="710.7" cy="1184.8" r="2.6" fill="#d6337f" />
<circle cx="707.8" cy="1187.7" r="2.6" fill="#d6337f" />
<circle cx="706.7" cy="1174.8" r="2.6" fill="#d6337f" />
<circle cx="700.7" cy="1195.7" r="2.6" fill="#d6337f" />
<circle cx="712.4" cy="1167.6" r="2.6" fill="#d6337f" />
<circle cx="711.8" cy="1167.3" r="2.6" fill="#d6337f" />
<circle cx="703.8" cy="1174.5" r="2.6" fill="#d6337f" />
<circle cx="714.4" cy="1170.1" r="2.6" fill="#d6337f" />
<circle cx="716.3" cy="1158.7" r="2.6" fill="#d6337f" />
<circle cx="703.5" cy="1182.7" r="2.6" fill="#d6337f" />
<circle cx="696.4" cy="1172.9" r="2.6" fill="#d6337f" />
<circle cx="704.1" cy="1179.5" r="2.6" fill="#d6337f" />
<circle cx="714.0" cy="1162.2" r="2.6" fill="#d6337f" />
<circle cx="718.2" cy="1162.4" r="2.6" fill="#d6337f" />
<circle cx="708.4" cy="1179.6" r="2.6" fill="#d6337f" />
<circle cx="704.3" cy="1179.4" r="2.6" fill="#d6337f" />
<circle cx="705.6" cy="1156.4" r="2.6" fill="#d6337f" />
<circle cx="703.0" cy="1164.4" r="2.6" fill="#d6337f" />
<circle cx="714.7" cy="1172.3" r="2.6" fill="#d6337f" />
<circle cx="714.9" cy="1182.1" r="2.6" fill="#d6337f" />
<circle cx="700.0" cy="1189.6" r="2.6" fill="#d6337f" />
<circle cx="708.7" cy="1177.9" r="2.6" fill="#d6337f" />
<circle cx="703.6" cy="1182.5" r="2.6" fill="#d6337f" />
<circle cx="709.6" cy="1173.9" r="2.6" fill="#d6337f" />
<circle cx="713.4" cy="1166.9" r="2.6" fill="#d6337f" />
<circle cx="700.4" cy="1188.8" r="2.6" fill="#d6337f" />
<circle cx="701.7" cy="1185.3" r="2.6" fill="#d6337f" />
<circle cx="713.8" cy="1171.1" r="2.6" fill="#d6337f" />
<circle cx="703.9" cy="1193.0" r="2.6" fill="#d6337f" />
<circle cx="700.7" cy="1184.5" r="2.6" fill="#d6337f" />
<circle cx="707.6" cy="1180.1" r="2.6" fill="#d6337f" />
<circle cx="702.7" cy="1171.6" r="2.6" fill="#d6337f" />
<circle cx="700.9" cy="1159.8" r="2.6" fill="#d6337f" />
<circle cx="701.5" cy="1186.1" r="2.6" fill="#d6337f" />
<circle cx="709.1" cy="1162.2" r="2.6" fill="#d6337f" />
<circle cx="716.5" cy="1167.9" r="2.6" fill="#d6337f" />
<circle cx="714.4" cy="1162.4" r="2.6" fill="#d6337f" />
<circle cx="708.4" cy="1170.4" r="2.6" fill="#d6337f" />
<circle cx="700.3" cy="1166.0" r="2.6" fill="#d6337f" />
<circle cx="695.6" cy="1196.3" r="2.6" fill="#d6337f" />
<circle cx="701.9" cy="1200.4" r="2.6" fill="#d6337f" />
<circle cx="714.8" cy="1159.5" r="2.6" fill="#d6337f" />
<circle cx="705.7" cy="1176.7" r="2.6" fill="#d6337f" />
<circle cx="708.8" cy="1172.2" r="2.6" fill="#d6337f" />
<circle cx="705.8" cy="1195.5" r="2.6" fill="#d6337f" />
<circle cx="702.8" cy="1178.7" r="2.6" fill="#d6337f" />
<circle cx="703.8" cy="1196.9" r="2.6" fill="#d6337f" />
<circle cx="715.6" cy="1155.0" r="2.6" fill="#d6337f" />
<circle cx="704.7" cy="1195.0" r="2.6" fill="#d6337f" />
<circle cx="706.0" cy="1169.8" r="2.6" fill="#d6337f" />
<circle cx="699.0" cy="1180.7" r="2.6" fill="#d6337f" />
<circle cx="697.7" cy="1192.3" r="2.6" fill="#d6337f" />
<circle cx="694.6" cy="1193.6" r="2.6" fill="#d6337f" />
<circle cx="705.0" cy="1185.4" r="2.6" fill="#d6337f" />
<circle cx="716.5" cy="1179.9" r="2.6" fill="#d6337f" />
<circle cx="706.3" cy="1160.7" r="2.6" fill="#d6337f" />
<circle cx="700.8" cy="1175.9" r="2.6" fill="#d6337f" />
<circle cx="714.7" cy="1179.3" r="2.6" fill="#d6337f" />
<circle cx="708.6" cy="1187.6" r="2.6" fill="#d6337f" />
<circle cx="711.9" cy="1164.4" r="2.6" fill="#d6337f" />
<circle cx="718.7" cy="1157.9" r="2.6" fill="#d6337f" />
<circle cx="709.8" cy="1164.7" r="2.6" fill="#d6337f" />
<circle cx="713.5" cy="1170.4" r="2.6" fill="#d6337f" />
<circle cx="709.6" cy="1181.5" r="2.6" fill="#d6337f" />
<circle cx="704.3" cy="1172.3" r="2.6" fill="#d6337f" />
<circle cx="709.0" cy="1156.0" r="2.6" fill="#d6337f" />
<circle cx="701.1" cy="1171.2" r="2.6" fill="#d6337f" />
<circle cx="710.8" cy="1184.7" r="2.6" fill="#d6337f" />
<circle cx="709.4" cy="1163.5" r="2.6" fill="#d6337f" />
<circle cx="695.2" cy="1194.0" r="2.6" fill="#d6337f" />
<circle cx="701.0" cy="1190.3" r="2.6" fill="#d6337f" />
<circle cx="700.1" cy="1192.8" r="2.6" fill="#d6337f" />
<circle cx="706.9" cy="1188.3" r="2.6" fill="#d6337f" />
<circle cx="712.0" cy="1178.9" r="2.6" fill="#d6337f" />
<circle cx="704.7" cy="1151.8" r="2.6" fill="#d6337f" />
<circle cx="694.8" cy="1193.1" r="2.6" fill="#d6337f" />
<circle cx="702.4" cy="1195.6" r="2.6" fill="#d6337f" />
<circle cx="707.8" cy="1183.7" r="2.6" fill="#d6337f" />
<line x1="614.0" y1="1067.8" x2="625.3" y2="1067.8" stroke="#000" stroke-width="1.4" />
<text x="610.5" y="1078.5" font-size="20" text-anchor="end">6</text>
<line x1="614.0" y1="1112.1" x2="625.3" y2="1112.1" stroke="#000" stroke-width="1.4" />
<text x="610.5" y="1123.3" font-size="20" text-anchor="end">4</text>
<line x1="614.0" y1="1156.3" x2="625.3" y2="1156.3" stroke="#000" stroke-width="1.4" />
<text x="610.5" y="1166.0" font-size="20" text-anchor="end">2</text>
<line x1="614.0" y1="1200.6" x2="625.3" y2="1200.6" stroke="#000" stroke-width="1.4" />
<text x="610.5" y="1211.3" font-size="20" text-anchor="end">0</text>
<line x1="637.4" y1="1200.6" x2="637.4" y2="1209.6" stroke="#000" stroke-width="1.4" />
<line x1="696.0" y1="1200.6" x2="696.0" y2="1209.6" stroke="#000" stroke-width="1.4" />
<line x1="754.6" y1="1200.6" x2="754.6" y2="1209.6" stroke="#000" stroke-width="1.4" />
<line x1="625.3" y1="1067.8" x2="766.3" y2="1067.8" stroke="#000" stroke-width="1.6" />
<line x1="766.3" y1="1067.8" x2="766.3" y2="1200.6" stroke="#000" stroke-width="1.6" />
<line x1="625.3" y1="1067.8" x2="625.3" y2="1201.4" stroke="#000" stroke-width="1.8" />
<line x1="614.0" y1="1200.6" x2="767.1" y2="1200.6" stroke="#000" stroke-width="1.8" />
<text x="632.7" y="1089.0" font-size="20" font-weight="bold" textLength="66.7" lengthAdjust="spacingAndGlyphs">siMixT</text>
<text x="637.4" y="1232.5" font-size="20" text-anchor="middle">-5</text>
<text x="696.0" y="1232.5" font-size="20" text-anchor="middle">0</text>
<text x="754.6" y="1232.5" font-size="20" text-anchor="middle">5</text>
<text x="663.6" y="1254.0" font-size="20" textLength="62.7" lengthAdjust="spacingAndGlyphs">log2FC</text>
<text x="581.2" y="1125.0" font-size="20" transform="rotate(-90 581.2 1125.0)" textLength="131" lengthAdjust="spacingAndGlyphs">- log10 <tspan font-style="italic">p</tspan> value</text>
<circle cx="563.9" cy="1212.0" r="2.6" fill="none" stroke="#777" stroke-width="1" />
<circle cx="624.0" cy="1288.2" r="2.6" fill="#000" />
<text x="629.2" y="1295.2" font-size="20" textLength="113.8" lengthAdjust="spacingAndGlyphs">Glycerolipids</text>
<circle cx="625.8" cy="1317.8" r="2.6" fill="#d6337f" />
<text x="630.0" y="1324.8" font-size="20" fill="#d6337f" textLength="117.5" lengthAdjust="spacingAndGlyphs">Sphingolipids</text>
<text x="820.3" y="871.0" font-size="21" font-weight="bold">K</text>
<text x="897.2" y="890.8" font-size="18.5" font-weight="bold" textLength="172.8" lengthAdjust="spacingAndGlyphs">Virion/Cells Ratio</text>
<circle cx="921.0" cy="1028.2" r="2.3" fill="#000" />
<circle cx="937.2" cy="1015.3" r="2.3" fill="#000" />
<circle cx="938.3" cy="1008.0" r="2.3" fill="#000" />
<circle cx="943.0" cy="1004.0" r="2.3" fill="#000" />
<circle cx="948.0" cy="1000.0" r="2.3" fill="#000" />
<circle cx="950.0" cy="1002.0" r="2.3" fill="#000" />
<circle cx="955.0" cy="998.0" r="2.3" fill="#000" />
<circle cx="958.5" cy="1000.0" r="2.3" fill="#000" />
<circle cx="968.2" cy="979.8" r="2.3" fill="#000" />
<circle cx="955.9" cy="996.8" r="2.3" fill="#000" />
<circle cx="986.7" cy="963.8" r="2.3" fill="#000" />
<circle cx="970.6" cy="973.0" r="2.3" fill="#000" />
<circle cx="973.3" cy="979.6" r="2.3" fill="#000" />
<circle cx="983.6" cy="964.7" r="2.3" fill="#000" />
<circle cx="966.4" cy="987.6" r="2.3" fill="#000" />
<circle cx="968.0" cy="985.7" r="2.3" fill="#000" />
<circle cx="987.4" cy="962.6" r="2.3" fill="#000" />
<circle cx="997.4" cy="957.8" r="2.3" fill="#000" />
<circle cx="952.8" cy="995.6" r="2.3" fill="#000" />
<circle cx="986.6" cy="966.0" r="2.3" fill="#000" />
<circle cx="980.6" cy="969.1" r="2.3" fill="#000" />
<circle cx="961.2" cy="990.9" r="2.3" fill="#000" />
<circle cx="960.1" cy="989.3" r="2.3" fill="#000" />
<circle cx="948.2" cy="1005.0" r="2.3" fill="#000" />
<circle cx="988.7" cy="963.9" r="2.3" fill="#000" />
<circle cx="996.8" cy="950.3" r="2.3" fill="#000" />
<circle cx="952.6" cy="999.6" r="2.3" fill="#000" />
<circle cx="973.8" cy="979.5" r="2.3" fill="#000" />
<circle cx="968.5" cy="980.6" r="2.3" fill="#000" />
<circle cx="970.6" cy="982.4" r="2.3" fill="#000" />
<circle cx="967.0" cy="980.2" r="2.3" fill="#000" />
<circle cx="976.9" cy="974.3" r="2.3" fill="#000" />
<circle cx="988.3" cy="966.7" r="2.3" fill="#000" />
<circle cx="976.1" cy="974.7" r="2.3" fill="#000" />
<circle cx="965.2" cy="985.9" r="2.3" fill="#000" />
<circle cx="955.5" cy="993.6" r="2.3" fill="#000" />
<circle cx="987.1" cy="962.5" r="2.3" fill="#000" />
<circle cx="988.3" cy="963.7" r="2.3" fill="#000" />
<circle cx="955.3" cy="994.9" r="2.3" fill="#000" />
<circle cx="956.5" cy="995.9" r="2.3" fill="#000" />
<circle cx="978.6" cy="973.2" r="2.3" fill="#000" />
<circle cx="965.9" cy="986.5" r="2.3" fill="#000" />
<circle cx="979.6" cy="971.6" r="2.3" fill="#000" />
<circle cx="977.8" cy="972.8" r="2.3" fill="#000" />
<circle cx="981.3" cy="969.1" r="2.3" fill="#000" />
<circle cx="980.6" cy="969.0" r="2.3" fill="#000" />
<circle cx="991.0" cy="961.6" r="2.3" fill="#000" />
<circle cx="970.9" cy="979.8" r="2.3" fill="#000" />
<circle cx="974.8" cy="976.3" r="2.3" fill="#000" />
<circle cx="959.8" cy="992.1" r="2.3" fill="#000" />
<circle cx="963.5" cy="985.3" r="2.3" fill="#000" />
<circle cx="966.4" cy="982.4" r="2.3" fill="#000" />
<circle cx="952.2" cy="1000.1" r="2.3" fill="#000" />
<circle cx="970.4" cy="976.5" r="2.3" fill="#000" />
<circle cx="971.5" cy="977.2" r="2.3" fill="#000" />
<circle cx="974.5" cy="975.1" r="2.3" fill="#000" />
<circle cx="971.3" cy="981.5" r="2.3" fill="#000" />
<circle cx="981.1" cy="967.0" r="2.3" fill="#000" />
<circle cx="968.1" cy="981.6" r="2.3" fill="#000" />
<circle cx="971.8" cy="975.3" r="2.3" fill="#000" />
<circle cx="964.0" cy="982.9" r="2.3" fill="#000" />
<circle cx="970.5" cy="982.2" r="2.3" fill="#000" />
<circle cx="962.5" cy="984.5" r="2.3" fill="#000" />
<circle cx="961.2" cy="987.7" r="2.3" fill="#000" />
<circle cx="947.9" cy="1000.3" r="2.3" fill="#000" />
<circle cx="999.7" cy="951.0" r="2.3" fill="#000" />
<circle cx="973.2" cy="975.5" r="2.3" fill="#000" />
<circle cx="966.7" cy="988.2" r="2.3" fill="#000" />
<circle cx="958.9" cy="992.1" r="2.3" fill="#000" />
<circle cx="967.8" cy="982.2" r="2.3" fill="#000" />
<circle cx="963.0" cy="983.9" r="2.3" fill="#000" />
<circle cx="996.5" cy="956.2" r="2.3" fill="#000" />
<circle cx="978.1" cy="974.4" r="2.3" fill="#000" />
<circle cx="967.1" cy="985.1" r="2.3" fill="#000" />
<circle cx="960.8" cy="992.3" r="2.3" fill="#000" />
<circle cx="980.3" cy="971.6" r="2.3" fill="#000" />
<circle cx="967.0" cy="979.5" r="2.3" fill="#000" />
<circle cx="969.2" cy="983.6" r="2.3" fill="#000" />
<circle cx="948.9" cy="1002.8" r="2.3" fill="#000" />
<circle cx="994.0" cy="961.6" r="2.3" fill="#000" />
<circle cx="967.2" cy="983.5" r="2.3" fill="#000" />
<circle cx="966.2" cy="982.9" r="2.3" fill="#000" />
<circle cx="965.5" cy="984.1" r="2.3" fill="#000" />
<circle cx="972.3" cy="978.1" r="2.3" fill="#000" />
<circle cx="968.4" cy="979.9" r="2.3" fill="#000" />
<circle cx="958.4" cy="992.5" r="2.3" fill="#000" />
<circle cx="958.5" cy="989.7" r="2.3" fill="#000" />
<circle cx="963.0" cy="986.7" r="2.3" fill="#000" />
<circle cx="978.6" cy="970.2" r="2.3" fill="#000" />
<circle cx="972.9" cy="977.2" r="2.3" fill="#000" />
<circle cx="953.1" cy="1000.0" r="2.3" fill="#000" />
<circle cx="971.8" cy="981.9" r="2.3" fill="#000" />
<circle cx="980.0" cy="968.9" r="2.3" fill="#000" />
<circle cx="963.4" cy="989.7" r="2.3" fill="#000" />
<circle cx="951.9" cy="999.6" r="2.3" fill="#000" />
<circle cx="997.9" cy="951.8" r="2.3" fill="#000" />
<circle cx="974.5" cy="972.9" r="2.3" fill="#000" />
<circle cx="988.4" cy="962.1" r="2.3" fill="#000" />
<circle cx="981.0" cy="972.3" r="2.3" fill="#000" />
<circle cx="965.9" cy="987.7" r="2.3" fill="#000" />
<circle cx="966.4" cy="984.5" r="2.3" fill="#000" />
<circle cx="967.7" cy="983.7" r="2.3" fill="#000" />
<circle cx="984.4" cy="963.8" r="2.3" fill="#000" />
<circle cx="986.7" cy="963.5" r="2.3" fill="#000" />
<circle cx="998.5" cy="955.0" r="2.3" fill="#000" />
<circle cx="951.2" cy="1001.5" r="2.3" fill="#000" />
<circle cx="969.2" cy="984.3" r="2.3" fill="#000" />
<circle cx="967.1" cy="988.8" r="2.3" fill="#000" />
<circle cx="973.8" cy="974.4" r="2.3" fill="#000" />
<circle cx="970.6" cy="978.7" r="2.3" fill="#000" />
<circle cx="967.5" cy="985.5" r="2.3" fill="#000" />
<circle cx="959.7" cy="989.9" r="2.3" fill="#000" />
<circle cx="979.8" cy="969.7" r="2.3" fill="#000" />
<circle cx="967.2" cy="984.9" r="2.3" fill="#000" />
<circle cx="967.9" cy="986.2" r="2.3" fill="#000" />
<circle cx="970.6" cy="979.9" r="2.3" fill="#000" />
<circle cx="983.4" cy="965.4" r="2.3" fill="#000" />
<circle cx="952.0" cy="997.6" r="2.3" fill="#000" />
<circle cx="966.5" cy="982.8" r="2.3" fill="#000" />
<circle cx="964.3" cy="985.0" r="2.3" fill="#000" />
<circle cx="979.8" cy="971.6" r="2.3" fill="#000" />
<circle cx="975.5" cy="977.6" r="2.3" fill="#000" />
<circle cx="967.7" cy="982.6" r="2.3" fill="#000" />
<circle cx="962.6" cy="987.3" r="2.3" fill="#000" />
<circle cx="959.6" cy="987.8" r="2.3" fill="#000" />
<circle cx="978.9" cy="972.0" r="2.3" fill="#000" />
<circle cx="984.8" cy="965.2" r="2.3" fill="#000" />
<circle cx="979.3" cy="971.1" r="2.3" fill="#000" />
<circle cx="964.6" cy="991.7" r="2.3" fill="#000" />
<circle cx="988.9" cy="960.3" r="2.3" fill="#000" />
<circle cx="986.6" cy="965.3" r="2.3" fill="#000" />
<circle cx="970.2" cy="979.0" r="2.3" fill="#000" />
<circle cx="974.3" cy="980.7" r="2.3" fill="#000" />
<circle cx="973.1" cy="979.1" r="2.3" fill="#000" />
<circle cx="966.7" cy="985.0" r="2.3" fill="#000" />
<circle cx="971.5" cy="980.8" r="2.3" fill="#000" />
<circle cx="953.9" cy="998.5" r="2.3" fill="#000" />
<circle cx="961.7" cy="987.1" r="2.3" fill="#000" />
<circle cx="979.0" cy="969.0" r="2.3" fill="#000" />
<circle cx="962.3" cy="988.8" r="2.3" fill="#000" />
<circle cx="997.0" cy="954.8" r="2.3" fill="#000" />
<circle cx="987.2" cy="960.6" r="2.3" fill="#000" />
<circle cx="969.7" cy="984.8" r="2.3" fill="#000" />
<circle cx="974.7" cy="979.0" r="2.3" fill="#000" />
<circle cx="968.0" cy="988.4" r="2.3" fill="#000" />
<circle cx="962.4" cy="988.6" r="2.3" fill="#000" />
<circle cx="957.5" cy="990.5" r="2.3" fill="#000" />
<circle cx="961.4" cy="990.0" r="2.3" fill="#000" />
<circle cx="988.2" cy="963.6" r="2.3" fill="#000" />
<circle cx="984.2" cy="963.0" r="2.3" fill="#000" />
<circle cx="959.3" cy="988.5" r="2.3" fill="#000" />
<circle cx="953.4" cy="998.5" r="2.3" fill="#000" />
<circle cx="964.8" cy="984.7" r="2.3" fill="#000" />
<circle cx="963.6" cy="990.8" r="2.3" fill="#000" />
<circle cx="966.6" cy="986.2" r="2.3" fill="#000" />
<circle cx="951.9" cy="996.0" r="2.3" fill="#000" />
<circle cx="977.7" cy="973.1" r="2.3" fill="#000" />
<circle cx="962.1" cy="986.8" r="2.3" fill="#000" />
<circle cx="969.3" cy="983.5" r="2.3" fill="#000" />
<circle cx="966.7" cy="983.1" r="2.3" fill="#000" />
<circle cx="970.3" cy="984.0" r="2.3" fill="#000" />
<circle cx="993.7" cy="955.0" r="2.3" fill="#000" />
<circle cx="967.2" cy="986.6" r="2.3" fill="#000" />
<circle cx="961.9" cy="988.1" r="2.3" fill="#000" />
<circle cx="961.0" cy="990.4" r="2.3" fill="#000" />
<circle cx="996.4" cy="955.0" r="2.3" fill="#000" />
<circle cx="976.8" cy="974.7" r="2.3" fill="#000" />
<circle cx="989.3" cy="963.1" r="2.3" fill="#000" />
<circle cx="1005.0" cy="941.0" r="2.3" fill="#000" />
<circle cx="1010.0" cy="938.5" r="2.3" fill="#000" />
<circle cx="1016.0" cy="931.6" r="2.3" fill="#000" />
<circle cx="1023.0" cy="925.0" r="2.3" fill="#000" />
<circle cx="1029.6" cy="922.5" r="2.3" fill="#000" />
<circle cx="999.0" cy="945.0" r="2.3" fill="#000" />
<circle cx="996.0" cy="948.0" r="2.3" fill="#000" />
<circle cx="974.7" cy="999.9" r="2.4" fill="none" stroke="#777" stroke-width="1" />
<line x1="903.4" y1="901.6" x2="1049.8" y2="901.6" stroke="#000" stroke-width="1.4" />
<line x1="1049.8" y1="901.6" x2="1049.8" y2="1047.4" stroke="#000" stroke-width="1.4" />
<line x1="903.4" y1="901.6" x2="903.4" y2="1048.4" stroke="#000" stroke-width="2" />
<line x1="902.4" y1="1047.4" x2="1050.5" y2="1047.4" stroke="#000" stroke-width="2" />
<line x1="892.5" y1="1047.4" x2="903.4" y2="1047.4" stroke="#000" stroke-width="1.8" />
<text x="888.5" y="1053.8" font-size="18" text-anchor="end">0.001</text>
<line x1="903.4" y1="1047.4" x2="903.4" y2="1056.4" stroke="#000" stroke-width="1.8" />
<text x="909.4" y="1065.4" font-size="18" text-anchor="end" transform="rotate(-45 909.4 1065.4)">0.001</text>
<line x1="892.5" y1="1010.9" x2="903.4" y2="1010.9" stroke="#000" stroke-width="1.8" />
<text x="888.5" y="1017.3" font-size="18" text-anchor="end">0.01</text>
<line x1="939.9" y1="1047.4" x2="939.9" y2="1056.4" stroke="#000" stroke-width="1.8" />
<text x="945.9" y="1065.4" font-size="18" text-anchor="end" transform="rotate(-45 945.9 1065.4)">0.01</text>
<line x1="892.5" y1="974.4" x2="903.4" y2="974.4" stroke="#000" stroke-width="1.8" />
<text x="888.5" y="980.8" font-size="18" text-anchor="end">0.1</text>
<line x1="976.4" y1="1047.4" x2="976.4" y2="1056.4" stroke="#000" stroke-width="1.8" />
<text x="982.4" y="1065.4" font-size="18" text-anchor="end" transform="rotate(-45 982.4 1065.4)">0.1</text>
<line x1="892.5" y1="937.9" x2="903.4" y2="937.9" stroke="#000" stroke-width="1.8" />
<text x="888.5" y="944.3" font-size="18" text-anchor="end">1</text>
<line x1="1012.9" y1="1047.4" x2="1012.9" y2="1056.4" stroke="#000" stroke-width="1.8" />
<text x="1018.9" y="1065.4" font-size="18" text-anchor="end" transform="rotate(-45 1018.9 1065.4)">1</text>
<line x1="892.5" y1="901.4" x2="903.4" y2="901.4" stroke="#000" stroke-width="1.8" />
<text x="888.5" y="907.8" font-size="18" text-anchor="end">10</text>
<line x1="1049.4" y1="1047.4" x2="1049.4" y2="1056.4" stroke="#000" stroke-width="1.8" />
<text x="1055.4" y="1065.4" font-size="18" text-anchor="end" transform="rotate(-45 1055.4 1065.4)">10</text>
<text x="844.4" y="1025.0" font-size="19" font-weight="bold" transform="rotate(-90 844.4 1025.0)" textLength="117.5" lengthAdjust="spacingAndGlyphs">Ratio_siMixT</text>
<text x="931.0" y="1114.2" font-size="19" font-weight="bold" textLength="106.6" lengthAdjust="spacingAndGlyphs">Ratio_siCtrl</text>
<text x="820.3" y="1181.9" font-size="21" font-weight="bold">L</text>
<text x="967.4" y="1181.9" font-size="21" font-weight="bold" textLength="75.6" lengthAdjust="spacingAndGlyphs">Virions</text>
<text x="965.3" y="1206.5" font-size="16">*</text>
<text x="971.8" y="1205.9" font-size="16.6" font-style="italic">p</text>
<text x="982.2" y="1205.9" font-size="16.6" textLength="62" lengthAdjust="spacingAndGlyphs">=0.0149</text>
<line x1="982.2" y1="1209.2" x2="1032.7" y2="1209.2" stroke="#666" stroke-width="1.6" />
<line x1="945.8" y1="1202.7" x2="945.8" y2="1383.5" stroke="#000" stroke-width="2.2" />
<line x1="932.3" y1="1382.5" x2="1062.5" y2="1382.5" stroke="#000" stroke-width="2.2" />
<line x1="933.7" y1="1220.1" x2="945.8" y2="1220.1" stroke="#000" stroke-width="1.8" />
<text x="928.0" y="1227.1" font-size="19.5" text-anchor="end">100</text>
<line x1="933.7" y1="1301.3" x2="945.8" y2="1301.3" stroke="#000" stroke-width="1.8" />
<text x="928.0" y="1308.3" font-size="19.5" text-anchor="end">50</text>
<line x1="933.7" y1="1382.5" x2="945.8" y2="1382.5" stroke="#000" stroke-width="1.8" />
<text x="928.0" y="1389.5" font-size="19.5" text-anchor="end">0</text>
<path d="M963.4,1382.5 L963.4,1220.2 L993.1,1220.2 L993.1,1382.5" stroke="#000" stroke-width="1.8" fill="none" />
<path d="M1012.8,1382.5 L1012.8,1273.7 L1043,1273.7 L1043,1382.5" stroke="#6c4192" stroke-width="1.8" fill="none" />
<line x1="966.0" y1="1220.2" x2="990.4" y2="1220.2" stroke="#000" stroke-width="1.3" />
<circle cx="966.0" cy="1222.4" r="4.2" fill="#000" />
<circle cx="978.2" cy="1217.8" r="4.2" fill="#000" />
<circle cx="990.4" cy="1220.2" r="4.2" fill="#000" />
<line x1="1027.7" y1="1260.2" x2="1027.7" y2="1285.3" stroke="#6c4192" stroke-width="1.8" />
<line x1="1019.3" y1="1260.2" x2="1036.3" y2="1260.2" stroke="#6c4192" stroke-width="1.8" />
<line x1="1019.3" y1="1285.3" x2="1036.3" y2="1285.3" stroke="#6c4192" stroke-width="1.8" />
<circle cx="1015.2" cy="1258.3" r="4.2" fill="#6c4192" />
<circle cx="1039.8" cy="1262.0" r="4.2" fill="#6c4192" />
<circle cx="1028.2" cy="1298.0" r="4.2" fill="#6c4192" />
<line x1="977.7" y1="1382.5" x2="977.7" y2="1393.8" stroke="#000" stroke-width="2" />
<line x1="1027.7" y1="1382.5" x2="1027.7" y2="1393.8" stroke="#000" stroke-width="2" />
<text x="989.0" y="1410.0" font-size="22.5" font-weight="bold" text-anchor="end" transform="rotate(-45 989.0 1410.0)">siCtrl</text>
<text x="1039.0" y="1410.0" font-size="22.5" font-weight="bold" fill="#6c4192" text-anchor="end" transform="rotate(-45 1039.0 1410.0)">siMixT</text>
<text x="859.0" y="1383.5" font-size="20.5" font-weight="bold" transform="rotate(-90 859.0 1383.5)" textLength="171" lengthAdjust="spacingAndGlyphs">Cholesterol (a.u.)</text>
<text x="886.0" y="1384.5" font-size="20.5" transform="rotate(-90 886.0 1384.5)" textLength="163.5" lengthAdjust="spacingAndGlyphs">w.r.t. mean siCtrl)</text>
</svg></body></html>
